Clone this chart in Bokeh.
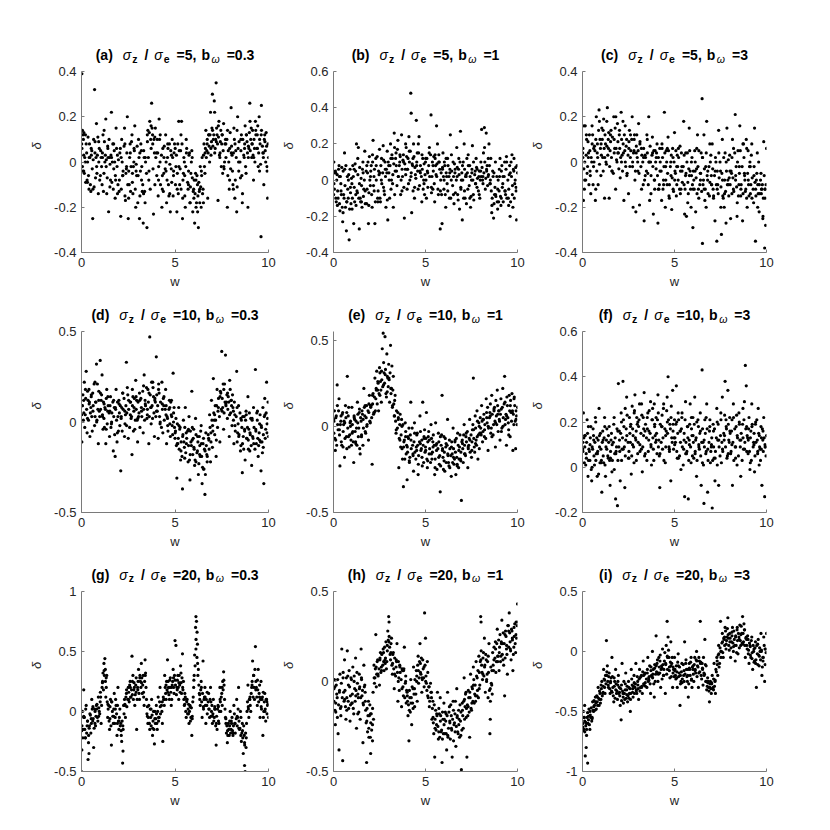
from bokeh.plotting import figure
from bokeh.models import Range1d, FixedTicker
from bokeh.core.properties import value
from bokeh.layouts import column, row
from bokeh.embed import file_html
from bokeh.resources import INLINE

# ---------------- data ----------------
x_ticks = [0, 5, 10]
x_tick_labels = ["0", "5", "10"]

panel_letters = ["a", "b", "c", "d", "e", "f", "g", "h", "i"]
panel_ratio = ["5", "5", "5", "10", "10", "10", "20", "20", "20"]
panel_bw = ["0.3", "1", "3", "0.3", "1", "3", "0.3", "1", "3"]

y_limits = [(-0.4, 0.4), (-0.4, 0.6), (-0.4, 0.4),
            (-0.5, 0.5), (-0.5, 0.55), (-0.2, 0.6),
            (-0.5, 1.0), (-0.5, 0.5), (-1.0, 0.5)]
y_ticks = [[-0.4, -0.2, 0, 0.2, 0.4], [-0.4, -0.2, 0, 0.2, 0.4, 0.6], [-0.4, -0.2, 0, 0.2, 0.4],
           [-0.5, 0, 0.5], [-0.5, 0, 0.5], [-0.2, 0, 0.2, 0.4, 0.6],
           [-0.5, 0, 0.5, 1], [-0.5, 0, 0.5], [-1, -0.5, 0, 0.5]]
y_tick_labels = [["-0.4", "-0.2", "0", "0.2", "0.4"], ["-0.4", "-0.2", "0", "0.2", "0.4", "0.6"],
                 ["-0.4", "-0.2", "0", "0.2", "0.4"],
                 ["-0.5", "0", "0.5"], ["-0.5", "0", "0.5"], ["-0.2", "0", "0.2", "0.4", "0.6"],
                 ["-0.5", "0", "0.5", "1"], ["-0.5", "0", "0.5"], ["-1", "-0.5", "0", "0.5"]]

pts_a = [(0.02,0.39),(0.05,0.14),(0.08,0.12),(0.1,0.1),(0.12,0.03),(0.05,-0.02),(0.15,-0.05),(0.2,0.0),(0.25,0.08),(0.3,-0.08),(0.35,0.11),(0.4,-0.12),(0.45,0.02),(0.5,-0.13),(0.55,0.05),(0.6,-0.25),(0.65,0.1),(0.7,0.32),(0.75,-0.07),(0.8,0.17),(0.85,0.03),(0.9,-0.14),(0.95,0.06),
(1.05,0.02),(1.1,-0.1),(1.15,0.12),(1.2,-0.05),(1.25,0.0),(1.3,0.19),(1.35,-0.14),(1.4,0.07),(1.45,-0.22),(1.5,0.02),(1.55,-0.08),(1.6,0.22),(1.65,0.0),(1.7,-0.12),(1.75,0.05),(1.8,-0.16),(1.85,0.15),(1.9,-0.02),(1.95,-0.1),
(2.05,0.04),(2.1,-0.24),(2.15,0.1),(2.2,-0.06),(2.3,0.15),(2.35,-0.17),(2.4,-0.03),(2.45,0.2),(2.5,-0.25),(2.55,-0.1),(2.6,0.08),(2.65,-0.02),(2.7,0.12),(2.75,-0.14),(2.8,0.0),(2.85,0.16),(2.9,-0.2),(2.95,-0.06),
(3.05,0.1),(3.1,-0.25),(3.15,-0.04),(3.2,0.05),(3.25,-0.13),(3.3,-0.27),(3.35,0.02),(3.4,-0.18),(3.5,-0.29),(3.55,0.14),(3.6,-0.08),(3.65,0.18),(3.7,0.1),(3.75,0.26),(3.8,0.12),(3.85,-0.23),(3.9,0.04),(3.95,0.15),
(4.05,0.1),(4.1,-0.15),(4.15,0.19),(4.2,0.0),(4.3,-0.2),(4.35,0.06),(4.4,-0.05),(4.5,0.12),(4.55,-0.18),(4.6,0.02),(4.65,-0.1),(4.7,0.08),(4.75,-0.22),(4.8,-0.03),(4.85,0.1),(4.9,-0.15),(4.95,0.04),
(5.05,-0.02),(5.1,-0.22),(5.15,0.08),(5.2,0.18),(5.25,-0.1),(5.3,0.05),(5.35,0.18),(5.4,-0.25),(5.45,-0.05),(5.5,0.0),(5.55,-0.2),(5.6,0.1),(5.7,-0.12),(5.75,0.03),(5.8,-0.18),(5.85,-0.05),(5.9,0.05),(5.95,-0.22),
(6.0,-0.12),(6.05,-0.27),(6.1,-0.05),(6.15,-0.18),(6.2,-0.1),(6.25,-0.29),(6.3,-0.13),(6.35,-0.02),(6.4,-0.2),(6.45,0.02),(6.5,-0.12),(6.55,0.08),(6.6,-0.05),(6.65,0.14),(6.7,0.05),(6.75,-0.16),(6.8,0.12),(6.85,0.0),(6.9,0.22),(6.95,0.09),
(7.0,0.3),(7.05,0.1),(7.1,0.27),(7.15,0.06),(7.2,0.35),(7.25,0.12),(7.3,-0.17),(7.35,0.18),(7.4,0.02),(7.45,0.14),(7.5,0.08),(7.55,-0.05),(7.6,0.17),(7.65,0.0),(7.7,0.1),(7.8,-0.2),(7.85,0.05),(7.9,-0.12),(7.95,0.13),
(8.0,0.24),(8.05,0.03),(8.1,-0.1),(8.15,0.15),(8.2,-0.16),(8.25,0.05),(8.3,-0.22),(8.35,0.2),(8.4,0.0),(8.5,-0.07),(8.55,0.12),(8.6,-0.18),(8.7,0.02),(8.75,0.16),(8.8,-0.05),(8.85,0.09),(8.9,-0.2),(8.95,0.06),
(9.0,0.26),(9.05,0.1),(9.1,0.02),(9.15,0.14),(9.2,-0.08),(9.25,0.06),(9.3,0.18),(9.4,0.12),(9.45,-0.02),(9.5,0.2),(9.55,0.08),(9.6,-0.33),(9.62,0.25),(9.7,0.04),(9.75,-0.1),(9.8,0.12),(9.85,0.0),(9.9,0.07),(9.95,-0.16),(10.0,0.02)]
pts_a2 = [(0.025,0.06),(0.075,-0.04),(0.125,0.13),(0.175,0.02),(0.225,-0.09),(0.275,0.04),(0.325,0.0),(0.375,-0.06),(0.425,0.08),(0.475,-0.1),(0.525,0.03),(0.575,-0.03),(0.625,0.01),(0.675,-0.11),(0.725,0.09),(0.775,0.02),(0.825,-0.05),(0.875,0.11),(0.925,0.0),(0.975,-0.08),
(1.025,0.05),(1.075,-0.02),(1.125,0.02),(1.175,-0.13),(1.225,0.09),(1.275,0.03),(1.325,0.01),(1.375,-0.07),(1.425,0.02),(1.475,0.1),(1.525,-0.01),(1.575,0.03),(1.625,-0.09),(1.675,0.08),(1.725,-0.03),(1.775,0.0),(1.825,-0.08),(1.875,0.06),(1.925,-0.14),(1.975,0.01),
(2.025,-0.08),(2.075,0.06),(2.125,-0.12),(2.175,0.0),(2.225,-0.04),(2.275,0.07),(2.325,-0.15),(2.375,-0.05),(2.425,0.04),(2.475,-0.1),(2.525,-0.04),(2.575,0.02),(2.625,-0.13),(2.675,0.09),(2.725,-0.05),(2.775,-0.02),(2.825,0.05),(2.875,-0.12),(2.925,-0.01),(2.975,0.07),
(3.025,-0.06),(3.075,0.02),(3.125,-0.15),(3.175,0.08),(3.225,-0.02),(3.275,-0.1),(3.325,0.05),(3.375,-0.13),(3.425,0.0),(3.475,-0.05),(3.525,0.09),(3.575,0.02),(3.625,0.13),(3.675,-0.12),(3.725,0.06),(3.775,0.15),(3.825,-0.03),(3.875,0.1),(3.925,-0.1),(3.975,0.02),
(4.025,-0.06),(4.075,0.04),(4.125,-0.02),(4.175,0.1),(4.225,-0.1),(4.275,0.03),(4.325,-0.06),(4.375,-0.13),(4.425,0.07),(4.475,-0.03),(4.525,0.0),(4.575,-0.08),(4.625,0.06),(4.675,-0.15),(4.725,-0.01),(4.775,0.05),(4.825,-0.09),(4.875,0.02),(4.925,-0.04),(4.975,0.08),
(5.025,-0.1),(5.075,0.03),(5.125,-0.05),(5.175,-0.14),(5.225,0.05),(5.275,-0.03),(5.325,-0.12),(5.375,0.08),(5.425,-0.08),(5.475,0.02),(5.525,-0.15),(5.575,-0.02),(5.625,0.06),(5.675,-0.09),(5.725,-0.04),(5.775,0.04),(5.825,-0.11),(5.875,0.0),(5.925,-0.07),(5.975,-0.13),
(6.025,-0.08),(6.075,-0.14),(6.125,-0.2),(6.175,-0.06),(6.225,-0.15),(6.275,-0.09),(6.325,-0.18),(6.375,-0.11),(6.425,-0.06),(6.475,-0.14),(6.525,0.03),(6.575,-0.02),(6.625,0.06),(6.675,0.02),(6.725,0.1),(6.775,0.04),(6.825,0.07),(6.875,0.12),(6.925,0.03),(6.975,0.15),
(7.025,0.07),(7.075,0.12),(7.125,0.04),(7.175,0.1),(7.225,0.15),(7.275,0.08),(7.325,0.11),(7.375,0.03),(7.425,0.09),(7.475,-0.02),(7.525,0.12),(7.575,0.05),(7.625,-0.03),(7.675,0.08),(7.725,0.02),(7.775,0.1),(7.825,-0.06),(7.875,0.0),(7.925,0.06),(7.975,-0.03),
(8.025,0.07),(8.075,-0.04),(8.125,0.04),(8.175,0.1),(8.225,-0.08),(8.275,0.02),(8.325,-0.11),(8.375,0.06),(8.425,0.09),(8.475,0.0),(8.525,0.05),(8.575,-0.06),(8.625,0.1),(8.675,0.03),(8.725,0.08),(8.775,-0.02),(8.825,0.12),(8.875,0.04),(8.925,0.07),(8.975,0.13),
(9.025,0.05),(9.075,0.15),(9.125,0.08),(9.175,0.03),(9.225,0.1),(9.275,0.0),(9.325,0.12),(9.375,0.06),(9.425,0.16),(9.475,0.04),(9.525,0.1),(9.575,-0.01),(9.625,0.14),(9.675,0.07),(9.725,0.02),(9.775,0.1),(9.825,0.05),(9.875,0.13),(9.925,-0.04),(9.975,0.08)]
pts_a3 = [(0.01,0.08),(0.12,-0.04),(0.21,0.12),(0.32,-0.09),(0.41,0.02),(0.52,0.06),(0.61,-0.12),(0.72,0.04),(0.81,-0.02),(0.92,0.09),
(1.01,-0.06),(1.12,0.04),(1.21,0.14),(1.32,-0.02),(1.41,0.06),(1.52,-0.11),(1.61,0.02),(1.72,0.08),(1.81,-0.06),(1.92,0.03),
(2.01,-0.13),(2.12,0.02),(2.21,-0.06),(2.32,0.08),(2.41,-0.02),(2.52,-0.16),(2.61,0.04),(2.72,-0.09),(2.81,0.06),(2.92,-0.04),
(3.01,-0.18),(3.12,0.04),(3.21,-0.08),(3.32,-0.14),(3.41,0.02),(3.52,0.12),(3.61,-0.04),(3.72,0.16),(3.81,0.08),(3.92,0.11),
(4.01,0.04),(4.12,-0.08),(4.21,0.12),(4.32,-0.12),(4.41,0.02),(4.52,-0.04),(4.61,0.08),(4.72,-0.14),(4.81,0.03),(4.92,-0.06),
(5.01,0.06),(5.12,-0.12),(5.21,-0.02),(5.32,0.12),(5.41,-0.16),(5.52,-0.06),(5.61,0.04),(5.72,-0.1),(5.81,-0.18),(5.92,0.02),
(6.01,-0.16),(6.12,-0.08),(6.21,-0.22),(6.32,-0.12),(6.41,-0.04),(6.52,-0.18),(6.61,0.04),(6.72,0.08),(6.81,0.12),(6.92,0.06),
(7.01,0.14),(7.12,0.22),(7.21,0.09),(7.32,0.16),(7.41,0.04),(7.52,0.12),(7.61,-0.02),(7.72,0.08),(7.81,0.14),(7.92,-0.08),
(8.01,0.04),(8.12,-0.12),(8.21,0.08),(8.32,0.14),(8.41,-0.04),(8.52,0.1),(8.61,-0.14),(8.72,0.06),(8.81,0.12),(8.92,0.02),
(9.01,0.18),(9.12,0.08),(9.21,0.02),(9.32,0.14),(9.41,0.06),(9.52,-0.04),(9.61,0.12),(9.72,0.04),(9.81,0.09),(9.92,-0.02)]

pts_b = [(0.02,0.1),(0.05,-0.05),(0.1,0.05),(0.15,-0.12),(0.2,0.03),(0.25,-0.1),(0.3,0.08),(0.35,-0.17),(0.4,-0.02),(0.45,0.07),(0.5,-0.23),(0.55,-0.08),(0.6,0.15),(0.65,-0.15),(0.7,-0.28),(0.75,0.02),(0.8,-0.1),(0.85,-0.33),(0.9,0.06),(0.95,-0.13),
(1.0,-0.02),(1.05,0.08),(1.1,-0.24),(1.15,-0.12),(1.2,0.05),(1.25,0.2),(1.3,-0.07),(1.35,0.18),(1.4,-0.27),(1.45,-0.1),(1.5,0.01),(1.55,-0.15),(1.6,0.1),(1.65,-0.05),(1.7,0.16),(1.8,-0.13),(1.85,0.04),(1.9,-0.24),(1.95,0.13),
(2.0,-0.03),(2.05,0.08),(2.1,-0.15),(2.15,0.22),(2.2,0.02),(2.25,-0.24),(2.3,0.12),(2.4,-0.1),(2.45,0.05),(2.5,0.17),(2.55,-0.12),(2.6,0.0),(2.7,0.19),(2.75,-0.06),(2.8,0.1),(2.85,-0.15),(2.9,0.04),(2.95,-0.22),
(3.0,0.08),(3.05,-0.1),(3.1,0.2),(3.15,0.0),(3.2,0.12),(3.25,-0.15),(3.3,0.26),(3.35,0.05),(3.4,0.15),(3.45,-0.03),(3.5,0.22),(3.6,0.1),(3.65,-0.08),(3.7,0.25),(3.75,0.02),(3.8,0.14),(3.85,-0.21),(3.9,0.06),(3.95,0.18),
(4.0,-0.05),(4.05,0.12),(4.1,0.24),(4.15,0.0),(4.2,0.48),(4.22,0.37),(4.25,-0.18),(4.3,0.08),(4.35,0.2),(4.4,-0.1),(4.45,0.03),(4.5,0.33),(4.55,0.15),(4.6,-0.05),(4.65,0.24),(4.7,0.05),(4.8,-0.12),(4.85,0.12),(4.9,0.0),(4.95,-0.08),
(5.0,0.1),(5.05,-0.1),(5.1,0.05),(5.2,0.15),(5.3,0.36),(5.35,0.02),(5.4,-0.05),(5.45,0.13),(5.5,-0.12),(5.55,0.08),(5.6,0.3),(5.65,0.2),(5.7,-0.08),(5.75,0.1),(5.8,-0.27),(5.85,0.04),(5.9,-0.24),(5.95,0.15),
(6.0,-0.05),(6.05,0.08),(6.1,-0.15),(6.15,0.02),(6.2,0.12),(6.3,-0.1),(6.35,0.25),(6.4,0.0),(6.5,0.1),(6.55,-0.13),(6.6,0.04),(6.7,0.18),(6.75,-0.08),(6.8,0.06),(6.85,-0.16),(6.9,0.27),(6.95,0.0),
(7.0,-0.22),(7.05,0.1),(7.1,0.2),(7.15,-0.1),(7.2,0.03),(7.25,0.12),(7.3,-0.05),(7.4,0.08),(7.45,-0.15),(7.5,0.0),(7.55,0.19),(7.6,-0.08),(7.7,0.05),(7.75,0.12),(7.8,-0.04),(7.9,0.02),(7.95,-0.1),
(8.0,0.05),(8.05,0.28),(8.1,0.0),(8.15,0.15),(8.2,0.29),(8.25,-0.05),(8.3,0.26),(8.35,0.08),(8.4,0.02),(8.45,0.2),(8.5,-0.02),(8.55,0.12),(8.6,-0.18),(8.65,0.05),(8.7,-0.21),(8.75,-0.08),(8.8,0.1),(8.9,-0.12),(8.95,0.0),
(9.0,-0.06),(9.05,0.12),(9.1,-0.14),(9.15,0.08),(9.2,-0.02),(9.3,0.1),(9.35,-0.08),(9.4,0.13),(9.5,-0.1),(9.55,0.03),(9.6,-0.2),(9.65,0.1),(9.7,0.14),(9.75,-0.15),(9.8,0.05),(9.85,-0.02),(9.9,0.07),(9.95,-0.22),(10.0,0.04)]
pts_b2 = [(0.025,-0.02),(0.075,0.04),(0.125,-0.1),(0.175,0.0),(0.225,-0.06),(0.275,0.06),(0.325,-0.13),(0.375,0.02),(0.425,-0.08),(0.475,-0.15),(0.525,0.05),(0.575,-0.1),(0.625,-0.03),(0.675,0.08),(0.725,-0.12),(0.775,-0.05),(0.825,0.03),(0.875,-0.16),(0.925,-0.07),(0.975,0.01),
(1.025,-0.1),(1.075,0.02),(1.125,-0.04),(1.175,0.09),(1.225,-0.14),(1.275,-0.06),(1.325,0.03),(1.375,-0.1),(1.425,0.07),(1.475,-0.12),(1.525,-0.03),(1.575,0.06),(1.625,-0.09),(1.675,0.0),(1.725,-0.13),(1.775,0.05),(1.825,-0.05),(1.875,0.1),(1.925,-0.07),(1.975,0.0),
(2.025,0.05),(2.075,-0.08),(2.125,0.1),(2.175,-0.03),(2.225,0.06),(2.275,-0.12),(2.325,0.0),(2.375,0.13),(2.425,-0.06),(2.475,0.03),(2.525,-0.1),(2.575,0.08),(2.625,-0.02),(2.675,0.04),(2.725,0.11),(2.775,-0.08),(2.825,0.02),(2.875,0.06),(2.925,-0.11),(2.975,0.1),
(3.025,0.0),(3.075,0.08),(3.125,-0.05),(3.175,0.14),(3.225,0.03),(3.275,0.09),(3.325,-0.08),(3.375,0.12),(3.425,0.05),(3.475,0.17),(3.525,0.02),(3.575,0.08),(3.625,0.13),(3.675,0.0),(3.725,0.06),(3.775,0.11),(3.825,-0.04),(3.875,0.09),(3.925,0.03),(3.975,0.13),
(4.025,0.06),(4.075,-0.02),(4.125,0.1),(4.175,0.16),(4.225,0.04),(4.275,0.09),(4.325,-0.06),(4.375,0.13),(4.425,0.07),(4.475,0.01),(4.525,0.1),(4.575,0.05),(4.625,0.15),(4.675,-0.03),(4.725,0.08),(4.775,0.02),(4.825,0.06),(4.875,-0.05),(4.925,0.09),(4.975,0.03),
(5.025,0.0),(5.075,0.12),(5.125,-0.04),(5.175,0.08),(5.225,0.02),(5.275,0.14),(5.325,-0.07),(5.375,0.1),(5.425,0.05),(5.475,-0.02),(5.525,0.12),(5.575,0.03),(5.625,0.09),(5.675,-0.05),(5.725,0.14),(5.775,0.06),(5.825,0.0),(5.875,-0.08),(5.925,0.07),(5.975,0.02),
(6.025,0.1),(6.075,-0.08),(6.125,0.04),(6.175,-0.02),(6.225,0.08),(6.275,0.02),(6.325,0.06),(6.375,-0.1),(6.425,0.05),(6.475,-0.03),(6.525,0.02),(6.575,0.09),(6.625,-0.07),(6.675,0.0),(6.725,0.07),(6.775,-0.11),(6.825,0.03),(6.875,0.1),(6.925,-0.05),(6.975,0.04),
(7.025,0.0),(7.075,-0.1),(7.125,0.06),(7.175,0.02),(7.225,-0.13),(7.275,0.04),(7.325,0.08),(7.375,-0.03),(7.425,0.02),(7.475,-0.09),(7.525,0.06),(7.575,0.0),(7.625,-0.11),(7.675,0.03),(7.725,-0.02),(7.775,0.07),(7.825,0.01),(7.875,-0.06),(7.925,0.05),(7.975,0.0),
(8.025,0.02),(8.075,0.07),(8.125,-0.02),(8.175,0.04),(8.225,0.1),(8.275,0.01),(8.325,0.05),(8.375,-0.03),(8.425,0.03),(8.475,0.08),(8.525,0.0),(8.575,-0.06),(8.625,-0.1),(8.675,0.02),(8.725,-0.13),(8.775,-0.04),(8.825,-0.09),(8.875,0.02),(8.925,-0.05),(8.975,-0.12),
(9.025,0.02),(9.075,-0.09),(9.125,0.05),(9.175,-0.04),(9.225,-0.12),(9.275,0.02),(9.325,-0.06),(9.375,0.06),(9.425,-0.1),(9.475,0.0),(9.525,-0.05),(9.575,0.08),(9.625,-0.12),(9.675,0.02),(9.725,-0.03),(9.775,0.06),(9.825,-0.1),(9.875,0.0),(9.925,-0.06),(9.975,0.08)]
pts_b3 = [(0.01,-0.08),(0.12,0.04),(0.21,-0.14),(0.32,0.02),(0.41,-0.06),(0.52,-0.18),(0.61,0.06),(0.72,-0.12),(0.81,0.0),(0.92,-0.04),
(1.01,-0.16),(1.12,0.06),(1.21,-0.08),(1.32,0.12),(1.41,-0.02),(1.52,-0.12),(1.61,0.04),(1.72,-0.06),(1.81,0.08),(1.92,-0.14),
(2.01,0.02),(2.12,0.14),(2.21,-0.06),(2.32,0.08),(2.41,-0.12),(2.52,0.04),(2.61,0.12),(2.72,-0.04),(2.81,0.06),(2.92,0.16),
(3.01,0.04),(3.12,0.12),(3.21,-0.02),(3.32,0.18),(3.41,0.08),(3.52,0.02),(3.61,0.14),(3.72,-0.06),(3.81,0.1),(3.92,0.2),
(4.01,0.06),(4.12,0.16),(4.21,0.02),(4.32,0.12),(4.41,-0.04),(4.52,0.08),(4.61,0.2),(4.72,0.04),(4.81,0.14),(4.92,-0.02),
(5.01,0.12),(5.12,0.04),(5.21,0.18),(5.32,-0.04),(5.41,0.08),(5.52,0.14),(5.61,0.02),(5.72,0.1),(5.81,-0.06),(5.92,0.06),
(6.01,0.0),(6.12,0.12),(6.21,-0.06),(6.32,0.04),(6.41,0.14),(6.52,-0.08),(6.61,0.06),(6.72,0.02),(6.81,0.12),(6.92,-0.04),
(7.01,0.08),(7.12,-0.06),(7.21,0.02),(7.32,0.14),(7.41,-0.1),(7.52,0.04),(7.61,0.1),(7.72,-0.02),(7.81,0.06),(7.92,-0.08),
(8.01,0.1),(8.12,0.02),(8.21,0.18),(8.32,0.06),(8.41,0.12),(8.52,-0.02),(8.61,-0.14),(8.72,0.04),(8.81,-0.08),(8.92,-0.16),
(9.01,0.06),(9.12,-0.1),(9.21,0.02),(9.32,-0.06),(9.41,0.1),(9.52,-0.14),(9.61,0.04),(9.72,-0.08),(9.81,0.12),(9.92,-0.04)]

pts_c = [(0.02,0.02),(0.05,-0.17),(0.08,0.16),(0.1,-0.12),(0.15,0.16),(0.2,0.03),(0.25,-0.05),(0.3,0.09),(0.35,-0.1),(0.4,0.05),(0.45,-0.14),(0.5,0.0),(0.55,0.12),(0.6,-0.02),(0.65,0.07),(0.7,-0.17),(0.75,0.2),(0.8,0.04),(0.85,-0.1),(0.9,0.23),(0.95,0.1),
(1.0,-0.06),(1.05,0.15),(1.1,0.02),(1.15,0.19),(1.2,-0.16),(1.25,0.08),(1.3,-0.01),(1.35,0.24),(1.4,0.1),(1.45,-0.16),(1.5,0.05),(1.55,0.14),(1.6,-0.04),(1.7,0.2),(1.75,0.06),(1.8,-0.12),(1.85,0.01),(1.9,0.17),(1.95,0.04),
(2.0,0.12),(2.05,-0.07),(2.1,0.22),(2.15,0.03),(2.2,0.18),(2.25,-0.17),(2.3,0.05),(2.35,-0.02),(2.4,0.1),(2.5,-0.14),(2.55,0.14),(2.6,0.02),(2.7,0.2),(2.75,-0.2),(2.8,0.05),(2.85,-0.08),(2.9,-0.22),(2.95,0.12),
(3.0,0.0),(3.05,0.17),(3.1,-0.19),(3.2,0.06),(3.3,-0.1),(3.35,-0.26),(3.4,0.03),(3.5,0.12),(3.55,-0.05),(3.6,0.2),(3.65,-0.17),(3.7,0.0),(3.8,0.11),(3.85,-0.23),(3.9,-0.08),(3.95,0.05),
(4.0,-0.03),(4.05,0.08),(4.1,-0.27),(4.15,-0.12),(4.2,0.06),(4.3,-0.17),(4.35,0.02),(4.4,-0.08),(4.45,0.22),(4.5,-0.2),(4.55,0.05),(4.6,-0.1),(4.65,0.11),(4.7,-0.15),(4.8,0.0),(4.85,-0.21),(4.9,0.06),(4.95,-0.13),
(5.0,0.13),(5.05,-0.05),(5.1,-0.15),(5.15,0.03),(5.2,-0.08),(5.3,0.07),(5.35,-0.12),(5.4,-0.02),(5.5,0.18),(5.55,-0.23),(5.6,-0.06),(5.65,-0.24),(5.7,0.04),(5.75,-0.14),(5.8,0.15),(5.85,-0.04),(5.9,-0.2),(5.95,0.02),
(6.0,-0.29),(6.05,-0.08),(6.1,0.05),(6.15,-0.22),(6.2,-0.03),(6.25,0.12),(6.3,-0.12),(6.4,-0.05),(6.45,0.04),(6.5,0.28),(6.52,-0.36),(6.55,-0.1),(6.6,0.12),(6.65,-0.17),(6.7,-0.02),(6.75,0.18),(6.8,-0.08),(6.9,-0.15),(6.95,0.0),
(7.0,-0.06),(7.05,0.08),(7.1,-0.12),(7.2,-0.26),(7.25,0.0),(7.3,-0.35),(7.35,-0.1),(7.4,0.14),(7.5,-0.04),(7.55,-0.32),(7.6,0.1),(7.65,-0.16),(7.7,-0.2),(7.75,0.04),(7.8,-0.27),(7.85,0.15),(7.9,-0.08),(7.95,-0.15),
(8.0,0.03),(8.05,-0.25),(8.1,-0.05),(8.15,0.1),(8.2,-0.12),(8.3,0.21),(8.35,-0.02),(8.4,-0.24),(8.45,0.05),(8.5,-0.1),(8.55,0.16),(8.6,-0.15),(8.7,-0.26),(8.75,0.08),(8.8,-0.05),(8.85,-0.13),(8.9,0.1),(8.95,-0.2),
(9.0,0.05),(9.05,-0.15),(9.1,0.0),(9.15,-0.1),(9.2,0.08),(9.3,-0.18),(9.35,0.15),(9.4,-0.35),(9.45,-0.08),(9.5,0.04),(9.55,-0.14),(9.6,-0.22),(9.7,-0.05),(9.75,-0.12),(9.8,-0.25),(9.85,0.09),(9.9,-0.38),(9.92,-0.16),(9.95,-0.28),(10.0,0.06)]
pts_c2 = [(0.025,0.06),(0.075,-0.03),(0.125,0.0),(0.175,-0.08),(0.225,0.1),(0.275,-0.02),(0.325,0.04),(0.375,0.12),(0.425,-0.06),(0.475,0.02),(0.525,0.08),(0.575,-0.1),(0.625,0.0),(0.675,0.05),(0.725,0.1),(0.775,-0.04),(0.825,0.02),(0.875,0.14),(0.925,-0.01),(0.975,0.06),
(1.025,0.03),(1.075,0.1),(1.125,-0.04),(1.175,0.06),(1.225,0.12),(1.275,0.0),(1.325,0.07),(1.375,0.03),(1.425,0.13),(1.475,-0.02),(1.525,0.09),(1.575,0.02),(1.625,0.11),(1.675,-0.05),(1.725,0.04),(1.775,0.15),(1.825,0.06),(1.875,0.0),(1.925,0.09),(1.975,-0.03),
(2.025,0.06),(2.075,0.02),(2.125,0.1),(2.175,-0.04),(2.225,0.04),(2.275,0.12),(2.325,0.0),(2.375,0.07),(2.425,-0.05),(2.475,0.03),(2.525,0.09),(2.575,-0.02),(2.625,0.05),(2.675,0.1),(2.725,0.0),(2.775,0.04),(2.825,0.12),(2.875,-0.04),(2.925,0.07),(2.975,0.02),
(3.025,0.05),(3.075,-0.05),(3.125,0.09),(3.175,-0.02),(3.225,0.03),(3.275,0.0),(3.325,0.06),(3.375,-0.08),(3.425,0.02),(3.475,-0.04),(3.525,0.04),(3.575,-0.1),(3.625,0.0),(3.675,0.07),(3.725,-0.06),(3.775,0.03),(3.825,-0.02),(3.875,0.05),(3.925,-0.12),(3.975,0.0),
(4.025,0.04),(4.075,-0.06),(4.125,0.02),(4.175,-0.1),(4.225,0.0),(4.275,-0.04),(4.325,0.06),(4.375,-0.12),(4.425,-0.02),(4.475,0.04),(4.525,-0.08),(4.575,0.0),(4.625,-0.05),(4.675,0.05),(4.725,-0.1),(4.775,-0.02),(4.825,0.03),(4.875,-0.07),(4.925,-0.12),(4.975,0.0),
(5.025,-0.04),(5.075,0.05),(5.125,-0.1),(5.175,-0.02),(5.225,0.02),(5.275,-0.12),(5.325,-0.04),(5.375,0.04),(5.425,-0.09),(5.475,-0.02),(5.525,0.03),(5.575,-0.12),(5.625,-0.05),(5.675,0.0),(5.725,-0.09),(5.775,-0.03),(5.825,0.05),(5.875,-0.12),(5.925,-0.06),(5.975,-0.1),
(6.025,-0.04),(6.075,-0.12),(6.125,0.0),(6.175,-0.07),(6.225,-0.14),(6.275,-0.02),(6.325,0.05),(6.375,-0.1),(6.425,-0.05),(6.475,-0.13),(6.525,0.02),(6.575,-0.08),(6.625,-0.03),(6.675,-0.12),(6.725,0.04),(6.775,-0.06),(6.825,-0.14),(6.875,-0.02),(6.925,-0.09),(6.975,0.03),
(7.025,-0.1),(7.075,-0.03),(7.125,-0.15),(7.175,-0.06),(7.225,0.02),(7.275,-0.1),(7.325,-0.04),(7.375,-0.14),(7.425,-0.07),(7.475,0.0),(7.525,-0.11),(7.575,-0.05),(7.625,-0.15),(7.675,0.02),(7.725,-0.08),(7.775,-0.13),(7.825,-0.04),(7.875,-0.1),(7.925,0.01),(7.975,-0.07),
(8.025,-0.1),(8.075,-0.04),(8.125,0.02),(8.175,-0.07),(8.225,-0.13),(8.275,0.04),(8.325,-0.06),(8.375,-0.11),(8.425,0.0),(8.475,-0.15),(8.525,-0.05),(8.575,0.05),(8.625,-0.1),(8.675,-0.02),(8.725,-0.14),(8.775,0.02),(8.825,-0.08),(8.875,-0.12),(8.925,0.06),(8.975,-0.05),
(9.025,-0.1),(9.075,-0.02),(9.125,-0.14),(9.175,0.03),(9.225,-0.07),(9.275,-0.12),(9.325,-0.02),(9.375,-0.09),(9.425,-0.15),(9.475,-0.05),(9.525,-0.1),(9.575,0.0),(9.625,-0.14),(9.675,-0.08),(9.725,-0.12),(9.775,-0.1),(9.825,-0.16),(9.875,-0.06),(9.925,-0.12),(9.975,-0.1)]
pts_c3 = [(0.01,0.04),(0.12,-0.08),(0.21,0.12),(0.32,0.02),(0.41,-0.04),(0.52,0.16),(0.61,0.06),(0.72,-0.12),(0.81,0.08),(0.92,0.18),
(1.01,0.08),(1.12,0.14),(1.21,0.02),(1.32,0.18),(1.41,0.06),(1.52,0.12),(1.61,-0.04),(1.72,0.1),(1.81,0.2),(1.92,0.04),
(2.01,0.14),(2.12,0.0),(2.21,0.08),(2.32,0.16),(2.41,-0.06),(2.52,0.06),(2.61,0.12),(2.72,-0.02),(2.81,0.1),(2.92,0.04),
(3.01,-0.04),(3.12,0.08),(3.21,-0.12),(3.32,0.02),(3.41,-0.06),(3.52,0.1),(3.61,0.0),(3.72,-0.14),(3.81,0.04),(3.92,-0.08),
(4.01,0.02),(4.12,-0.12),(4.21,-0.04),(4.32,0.08),(4.41,-0.1),(4.52,-0.02),(4.61,0.06),(4.72,-0.16),(4.81,-0.06),(4.92,0.02),
(5.01,-0.08),(5.12,-0.02),(5.21,0.06),(5.32,-0.14),(5.41,-0.04),(5.52,-0.1),(5.61,0.04),(5.72,-0.18),(5.81,-0.06),(5.92,0.0),
(6.01,-0.12),(6.12,-0.04),(6.21,0.06),(6.32,-0.16),(6.41,-0.08),(6.52,0.02),(6.61,-0.12),(6.72,-0.2),(6.81,-0.04),(6.92,0.08),
(7.01,-0.1),(7.12,-0.16),(7.21,-0.04),(7.32,-0.12),(7.41,0.04),(7.52,-0.2),(7.61,-0.08),(7.72,-0.14),(7.81,0.0),(7.92,-0.1),
(8.01,-0.04),(8.12,-0.14),(8.21,0.06),(8.32,-0.08),(8.41,-0.18),(8.52,-0.02),(8.61,-0.12),(8.72,0.08),(8.81,-0.06),(8.92,-0.16),
(9.01,-0.08),(9.12,-0.02),(9.21,-0.16),(9.32,-0.06),(9.41,-0.12),(9.52,-0.2),(9.61,-0.1),(9.72,-0.14),(9.81,-0.24),(9.92,-0.12)]

pts_d = [(0.02,-0.11),(0.05,0.09),(0.1,0.01),(0.15,0.22),(0.2,0.04),(0.25,0.28),(0.3,-0.06),(0.35,0.12),(0.4,0.18),(0.45,-0.08),(0.5,0.08),(0.55,0.03),(0.6,0.16),(0.7,-0.02),(0.75,0.11),(0.8,0.32),(0.85,0.21),(0.9,-0.12),(0.95,0.06),
(1.0,0.34),(1.05,0.12),(1.1,0.26),(1.15,-0.04),(1.2,0.02),(1.25,0.08),(1.3,-0.12),(1.35,0.18),(1.4,0.06),(1.5,-0.08),(1.55,0.14),(1.6,-0.01),(1.7,-0.16),(1.75,0.08),(1.8,-0.19),(1.85,0.18),(1.9,-0.11),(1.95,0.03),
(2.0,0.12),(2.05,-0.02),(2.1,-0.27),(2.15,0.08),(2.2,0.16),(2.3,-0.08),(2.35,0.04),(2.4,0.33),(2.45,0.19),(2.5,-0.09),(2.6,0.11),(2.65,0.02),(2.7,-0.18),(2.75,0.14),(2.8,0.06),(2.85,-0.04),(2.9,0.23),(2.95,0.12),
(3.0,-0.11),(3.05,0.03),(3.1,0.16),(3.2,0.08),(3.3,-0.06),(3.35,0.26),(3.4,0.12),(3.5,0.02),(3.55,0.18),(3.6,-0.12),(3.65,0.47),(3.7,0.08),(3.75,0.22),(3.8,0.02),(3.85,0.14),(3.9,-0.08),(3.95,0.11),
(4.0,0.36),(4.05,0.06),(4.1,-0.09),(4.15,0.16),(4.2,-0.01),(4.3,0.22),(4.35,-0.06),(4.4,0.09),(4.5,0.18),(4.55,-0.12),(4.6,0.02),(4.7,0.12),(4.75,-0.08),(4.8,0.04),(4.85,-0.02),(4.9,0.27),(4.95,0.08),
(5.0,-0.09),(5.05,0.02),(5.1,-0.31),(5.15,-0.12),(5.2,0.08),(5.25,-0.04),(5.3,-0.21),(5.4,-0.37),(5.45,0.01),(5.5,-0.14),(5.55,0.08),(5.6,-0.06),(5.7,-0.22),(5.75,0.03),(5.8,-0.32),(5.85,-0.11),(5.9,0.17),(5.95,-0.18),
(6.0,-0.04),(6.05,-0.24),(6.1,0.02),(6.2,-0.16),(6.25,-0.29),(6.3,-0.08),(6.35,-0.19),(6.4,-0.02),(6.45,-0.34),(6.5,-0.12),(6.55,-0.26),(6.6,-0.4),(6.65,-0.06),(6.7,-0.18),(6.8,-0.09),(6.85,0.04),(6.9,-0.22),(6.95,0.12),
(7.0,-0.14),(7.05,0.24),(7.1,0.01),(7.15,0.09),(7.2,-0.19),(7.25,0.18),(7.3,0.06),(7.4,-0.11),(7.45,0.16),(7.5,0.39),(7.55,0.08),(7.6,-0.04),(7.65,0.21),(7.7,0.37),(7.75,0.11),(7.8,0.02),(7.85,0.14),(7.9,-0.08),(7.95,0.18),
(8.0,0.12),(8.05,-0.02),(8.1,0.08),(8.15,-0.12),(8.2,0.04),(8.3,0.28),(8.35,-0.06),(8.4,0.09),(8.5,-0.16),(8.55,0.01),(8.6,-0.28),(8.65,-0.08),(8.7,0.03),(8.75,-0.21),(8.8,0.06),(8.85,-0.09),(8.9,0.14),(8.95,-0.04),
(9.0,-0.16),(9.05,0.02),(9.1,-0.24),(9.15,-0.08),(9.2,0.08),(9.3,0.29),(9.35,-0.12),(9.4,0.01),(9.45,-0.19),(9.5,-0.06),(9.55,0.04),(9.6,-0.27),(9.65,-0.11),(9.7,0.08),(9.75,-0.34),(9.8,0.13),(9.85,-0.04),(9.9,0.22),(9.95,0.02),(10.0,-0.08)]
pts_d2 = [(0.025,0.09),(0.075,0.15),(0.125,0.05),(0.175,-0.03),(0.225,0.13),(0.275,0.07),(0.325,0.17),(0.375,0.01),(0.425,0.11),(0.475,0.05),(0.525,0.15),(0.575,-0.05),(0.625,0.09),(0.675,0.21),(0.725,0.03),(0.775,0.11),(0.825,0.01),(0.875,0.07),(0.925,0.17),(0.975,0.03),
(1.025,0.07),(1.075,0.15),(1.125,0.03),(1.175,0.11),(1.225,-0.03),(1.275,0.07),(1.325,0.13),(1.375,-0.01),(1.425,0.09),(1.475,0.05),(1.525,0.09),(1.575,-0.03),(1.625,0.05),(1.675,0.11),(1.725,0.03),(1.775,-0.07),(1.825,0.07),(1.875,0.01),(1.925,0.11),(1.975,-0.05),
(2.025,0.05),(2.075,0.09),(2.125,0.03),(2.175,-0.05),(2.225,0.07),(2.275,0.13),(2.325,-0.01),(2.375,0.09),(2.425,0.05),(2.475,0.15),(2.525,0.07),(2.575,-0.03),(2.625,0.11),(2.675,0.03),(2.725,0.09),(2.775,-0.05),(2.825,0.13),(2.875,0.01),(2.925,0.07),(2.975,0.01),
(3.025,0.11),(3.075,0.05),(3.125,-0.03),(3.175,0.13),(3.225,0.03),(3.275,0.17),(3.325,0.07),(3.375,0.01),(3.425,0.09),(3.475,0.19),(3.525,0.07),(3.575,0.11),(3.625,0.03),(3.675,0.15),(3.725,-0.01),(3.775,0.09),(3.825,0.19),(3.875,0.05),(3.925,0.13),(3.975,0.03),
(4.025,0.15),(4.075,0.09),(4.125,0.21),(4.175,0.03),(4.225,0.11),(4.275,-0.03),(4.325,0.07),(4.375,0.13),(4.425,0.01),(4.475,0.07),(4.525,0.09),(4.575,0.03),(4.625,-0.05),(4.675,0.07),(4.725,-0.01),(4.775,0.11),(4.825,0.03),(4.875,-0.07),(4.925,0.05),(4.975,-0.03),
(5.025,-0.05),(5.075,-0.13),(5.125,-0.01),(5.175,-0.09),(5.225,-0.15),(5.275,-0.03),(5.325,-0.11),(5.375,-0.19),(5.425,-0.07),(5.475,-0.11),(5.525,-0.03),(5.575,-0.17),(5.625,-0.09),(5.675,-0.05),(5.725,-0.13),(5.775,-0.21),(5.825,-0.05),(5.875,-0.13),(5.925,-0.03),(5.975,-0.09),
(6.025,-0.15),(6.075,-0.21),(6.125,-0.07),(6.175,-0.17),(6.225,-0.11),(6.275,-0.23),(6.325,-0.13),(6.375,-0.05),(6.425,-0.19),(6.475,-0.25),(6.525,-0.09),(6.575,-0.15),(6.625,-0.29),(6.675,-0.13),(6.725,-0.19),(6.775,-0.07),(6.825,-0.15),(6.875,-0.03),(6.925,-0.11),(6.975,0.01),
(7.025,-0.05),(7.075,0.05),(7.125,-0.07),(7.175,0.01),(7.225,0.09),(7.275,-0.03),(7.325,0.13),(7.375,0.03),(7.425,0.17),(7.475,0.07),(7.525,0.13),(7.575,0.21),(7.625,0.05),(7.675,0.11),(7.725,0.09),(7.775,0.15),(7.825,0.07),(7.875,0.11),(7.925,0.23),(7.975,0.05),
(8.025,0.09),(8.075,0.15),(8.125,0.01),(8.175,0.11),(8.225,-0.05),(8.275,0.03),(8.325,-0.11),(8.375,-0.01),(8.425,-0.07),(8.475,0.05),(8.525,-0.13),(8.575,-0.03),(8.625,0.03),(8.675,-0.15),(8.725,-0.05),(8.775,0.01),(8.825,-0.09),(8.875,-0.03),(8.925,-0.15),(8.975,0.05),
(9.025,-0.07),(9.075,-0.13),(9.125,0.01),(9.175,-0.09),(9.225,-0.03),(9.275,-0.15),(9.325,-0.05),(9.375,0.05),(9.425,-0.09),(9.475,-0.13),(9.525,-0.01),(9.575,-0.11),(9.625,-0.03),(9.675,-0.17),(9.725,-0.07),(9.775,0.03),(9.825,-0.09),(9.875,0.05),(9.925,-0.01),(9.975,0.11)]
pts_d3 = [(0.01,0.04),(0.12,0.12),(0.21,0.18),(0.32,0.02),(0.41,0.1),(0.52,0.14),(0.61,0.06),(0.72,0.22),(0.81,0.0),(0.92,0.12),
(1.01,0.16),(1.12,0.04),(1.21,0.1),(1.32,-0.04),(1.41,0.14),(1.52,0.06),(1.61,0.0),(1.72,0.12),(1.81,0.08),(1.92,-0.06),
(2.01,0.1),(2.12,0.02),(2.21,0.16),(2.32,0.06),(2.41,-0.02),(2.52,0.12),(2.61,0.04),(2.72,0.18),(2.81,0.08),(2.92,0.14),
(3.01,0.02),(3.12,0.12),(3.21,0.06),(3.32,0.2),(3.41,0.1),(3.52,0.04),(3.61,0.16),(3.72,0.08),(3.81,0.22),(3.92,0.12),
(4.01,0.06),(4.12,0.18),(4.21,0.0),(4.32,0.1),(4.41,0.14),(4.52,0.04),(4.61,-0.02),(4.72,0.08),(4.81,0.12),(4.92,0.0),
(5.01,-0.06),(5.12,-0.12),(5.21,-0.02),(5.32,-0.16),(5.41,-0.08),(5.52,-0.2),(5.61,-0.12),(5.72,-0.04),(5.81,-0.18),(5.92,-0.1),
(6.01,-0.14),(6.12,-0.22),(6.21,-0.08),(6.32,-0.18),(6.41,-0.12),(6.52,-0.26),(6.61,-0.16),(6.72,-0.22),(6.81,-0.1),(6.92,-0.06),
(7.01,-0.02),(7.12,0.04),(7.21,-0.1),(7.32,0.08),(7.41,0.14),(7.52,0.06),(7.61,0.18),(7.72,0.1),(7.81,0.16),(7.92,0.04),
(8.01,0.12),(8.12,0.06),(8.21,-0.02),(8.32,0.08),(8.41,-0.08),(8.52,0.02),(8.61,-0.12),(8.72,-0.04),(8.81,0.04),(8.92,-0.1),
(9.01,-0.06),(9.12,0.02),(9.21,-0.12),(9.32,-0.04),(9.41,0.06),(9.52,-0.1),(9.61,-0.02),(9.72,-0.14),(9.81,0.04),(9.92,-0.06)]

pts_e = [(0.02,-0.04),(0.05,0.09),(0.1,-0.14),(0.15,0.06),(0.2,0.24),(0.25,-0.02),(0.3,0.16),(0.35,-0.23),(0.4,0.03),(0.45,-0.11),(0.5,0.08),(0.55,0.01),(0.6,-0.18),(0.65,0.12),(0.7,-0.06),(0.75,0.29),(0.8,0.06),(0.85,-0.12),(0.9,0.02),(0.95,-0.08),
(1.0,0.11),(1.05,-0.03),(1.1,-0.21),(1.15,0.04),(1.2,-0.09),(1.25,-0.01),(1.3,0.14),(1.35,-0.06),(1.4,0.08),(1.45,-0.16),(1.5,0.03),(1.55,0.09),(1.6,-0.11),(1.65,0.22),(1.7,0.06),(1.75,-0.04),(1.8,0.12),(1.9,-0.08),(1.95,0.18),
(2.0,0.02),(2.05,0.12),(2.1,-0.22),(2.15,0.19),(2.2,0.08),(2.25,0.28),(2.3,0.16),(2.35,0.32),(2.4,0.21),(2.45,0.09),(2.5,0.34),(2.55,0.26),(2.6,0.14),(2.65,0.45),(2.7,0.54),(2.75,0.31),(2.8,0.52),(2.85,0.19),(2.9,0.42),(2.95,0.28),
(3.0,0.36),(3.05,0.14),(3.1,0.47),(3.15,0.22),(3.2,0.11),(3.25,0.29),(3.3,0.06),(3.35,0.18),(3.4,-0.04),(3.5,0.08),(3.55,-0.24),(3.6,0.01),(3.65,-0.12),(3.7,0.04),(3.75,-0.19),(3.8,-0.35),(3.85,-0.08),(3.9,0.02),(3.95,-0.16),
(4.0,-0.31),(4.05,-0.06),(4.1,-0.01),(4.15,-0.18),(4.2,0.14),(4.3,-0.11),(4.35,-0.26),(4.4,0.02),(4.5,-0.12),(4.55,-0.04),(4.6,-0.28),(4.7,0.06),(4.75,-0.14),(4.8,-0.08),(4.85,0.14),(4.9,-0.21),(4.95,-0.02),
(5.0,-0.12),(5.05,0.08),(5.1,-0.24),(5.15,-0.06),(5.2,-0.16),(5.3,0.01),(5.35,-0.19),(5.4,-0.09),(5.5,-0.28),(5.55,0.02),(5.6,-0.14),(5.7,-0.04),(5.75,-0.22),(5.8,-0.38),(5.85,-0.11),(5.9,0.18),(5.95,-0.18),
(6.0,-0.06),(6.05,-0.26),(6.1,-0.12),(6.2,0.04),(6.25,-0.21),(6.3,-0.08),(6.4,-0.29),(6.45,-0.16),(6.5,-0.01),(6.55,-0.22),(6.6,-0.09),(6.65,-0.28),(6.7,-0.18),(6.75,-0.04),(6.8,-0.24),(6.85,-0.12),(6.9,-0.19),(6.95,-0.43),
(7.0,-0.08),(7.05,-0.21),(7.1,0.01),(7.15,-0.16),(7.2,-0.06),(7.3,-0.24),(7.35,-0.11),(7.4,0.04),(7.5,-0.18),(7.55,-0.02),(7.6,0.28),(7.65,-0.12),(7.7,0.06),(7.75,-0.08),(7.8,0.09),(7.85,-0.19),(7.9,0.02),(7.95,-0.04),
(8.0,-0.01),(8.05,0.12),(8.1,-0.09),(8.15,0.04),(8.2,-0.06),(8.3,0.16),(8.35,0.02),(8.4,-0.14),(8.5,0.08),(8.55,-0.04),(8.6,0.18),(8.7,0.01),(8.75,0.11),(8.8,-0.12),(8.85,0.06),(8.9,0.21),(8.95,-0.03),
(9.0,0.09),(9.05,-0.08),(9.1,0.16),(9.15,-0.01),(9.2,0.22),(9.3,0.29),(9.35,0.04),(9.4,-0.11),(9.45,0.12),(9.5,0.02),(9.55,0.18),(9.6,-0.06),(9.65,0.08),(9.7,0.19),(9.75,-0.14),(9.8,0.01),(9.85,0.12),(9.9,-0.13),(9.95,0.06),(10.0,0.11)]
pts_e2 = [(0.025,0.03),(0.075,-0.07),(0.125,0.05),(0.175,-0.11),(0.225,0.01),(0.275,0.09),(0.325,-0.05),(0.375,0.01),(0.425,-0.09),(0.475,0.07),(0.525,-0.03),(0.575,0.03),(0.625,-0.07),(0.675,0.05),(0.725,-0.13),(0.775,-0.01),(0.825,0.11),(0.875,-0.05),(0.925,0.03),(0.975,-0.11),
(1.025,0.01),(1.075,-0.09),(1.125,0.05),(1.175,-0.03),(1.225,0.03),(1.275,-0.11),(1.325,0.07),(1.375,-0.01),(1.425,-0.13),(1.475,0.05),(1.525,-0.05),(1.575,0.07),(1.625,-0.01),(1.675,0.11),(1.725,-0.03),(1.775,0.05),(1.825,0.01),(1.875,0.09),(1.925,0.13),(1.975,0.03),
(2.025,0.11),(2.075,0.05),(2.125,0.13),(2.175,0.07),(2.225,0.17),(2.275,0.09),(2.325,0.21),(2.375,0.13),(2.425,0.25),(2.475,0.19),(2.525,0.31),(2.575,0.21),(2.625,0.27),(2.675,0.23),(2.725,0.37),(2.775,0.25),(2.825,0.33),(2.875,0.17),(2.925,0.29),(2.975,0.23),
(3.025,0.27),(3.075,0.31),(3.125,0.19),(3.175,0.35),(3.225,0.21),(3.275,0.13),(3.325,0.15),(3.375,0.03),(3.425,0.09),(3.475,-0.01),(3.525,0.05),(3.575,-0.07),(3.625,0.07),(3.675,-0.05),(3.725,-0.13),(3.775,0.01),(3.825,-0.09),(3.875,-0.19),(3.925,-0.03),(3.975,-0.11),
(4.025,-0.15),(4.075,-0.07),(4.125,-0.21),(4.175,-0.05),(4.225,-0.13),(4.275,-0.01),(4.325,-0.17),(4.375,-0.09),(4.425,-0.15),(4.475,-0.19),(4.525,-0.05),(4.575,-0.11),(4.625,-0.17),(4.675,-0.09),(4.725,-0.03),(4.775,-0.13),(4.825,-0.23),(4.875,-0.11),(4.925,-0.07),(4.975,-0.15),
(5.025,-0.07),(5.075,-0.19),(5.125,-0.09),(5.175,-0.03),(5.225,-0.13),(5.275,-0.21),(5.325,-0.07),(5.375,-0.15),(5.425,-0.05),(5.475,-0.11),(5.525,-0.19),(5.575,-0.11),(5.625,-0.25),(5.675,-0.13),(5.725,-0.09),(5.775,-0.17),(5.825,-0.23),(5.875,-0.05),(5.925,-0.13),(5.975,-0.25),
(6.025,-0.15),(6.075,-0.07),(6.125,-0.21),(6.175,-0.11),(6.225,-0.17),(6.275,-0.23),(6.325,-0.13),(6.375,-0.17),(6.425,-0.09),(6.475,-0.21),(6.525,-0.13),(6.575,-0.19),(6.625,-0.15),(6.675,-0.07),(6.725,-0.23),(6.775,-0.11),(6.825,-0.19),(6.875,-0.05),(6.925,-0.15),(6.975,-0.09),
(7.025,-0.13),(7.075,-0.05),(7.125,-0.11),(7.175,-0.17),(7.225,-0.09),(7.275,-0.03),(7.325,-0.13),(7.375,-0.07),(7.425,-0.15),(7.475,-0.05),(7.525,-0.09),(7.575,0.01),(7.625,-0.07),(7.675,-0.15),(7.725,-0.01),(7.775,-0.11),(7.825,0.03),(7.875,-0.05),(7.925,-0.13),(7.975,0.05),
(8.025,-0.05),(8.075,0.03),(8.125,-0.03),(8.175,0.07),(8.225,0.01),(8.275,-0.07),(8.325,0.05),(8.375,0.11),(8.425,-0.01),(8.475,0.05),(8.525,0.13),(8.575,-0.01),(8.625,0.07),(8.675,-0.05),(8.725,0.09),(8.775,0.03),(8.825,0.15),(8.875,0.01),(8.925,0.07),(8.975,0.09),
(9.025,0.03),(9.075,0.07),(9.125,-0.03),(9.175,0.11),(9.225,0.05),(9.275,0.13),(9.325,0.01),(9.375,0.07),(9.425,0.17),(9.475,0.05),(9.525,-0.05),(9.575,0.09),(9.625,0.15),(9.675,0.03),(9.725,0.09),(9.775,0.07),(9.825,0.17),(9.875,0.03),(9.925,0.09),(9.975,0.01)]
pts_e3 = [(0.01,0.04),(0.12,-0.08),(0.21,0.12),(0.32,-0.02),(0.41,0.06),(0.52,-0.12),(0.61,0.02),(0.72,0.08),(0.81,-0.06),(0.92,0.0),
(1.01,-0.04),(1.12,0.06),(1.21,-0.1),(1.32,0.02),(1.41,0.1),(1.52,-0.06),(1.61,0.04),(1.72,0.12),(1.81,0.0),(1.92,0.08),
(2.01,0.12),(2.12,0.18),(2.21,0.08),(2.32,0.22),(2.41,0.26),(2.52,0.18),(2.61,0.32),(2.72,0.24),(2.81,0.3),(2.92,0.2),
(3.01,0.28),(3.12,0.22),(3.21,0.12),(3.32,0.06),(3.41,-0.02),(3.52,0.04),(3.61,-0.08),(3.72,0.0),(3.81,-0.12),(3.92,-0.06),
(4.01,-0.12),(4.12,-0.2),(4.21,-0.08),(4.32,-0.16),(4.41,-0.04),(4.52,-0.14),(4.61,-0.22),(4.72,-0.1),(4.81,-0.18),(4.92,-0.06),
(5.01,-0.14),(5.12,-0.2),(5.21,-0.08),(5.32,-0.16),(5.41,-0.12),(5.52,-0.24),(5.61,-0.1),(5.72,-0.18),(5.81,-0.06),(5.92,-0.14),
(6.01,-0.2),(6.12,-0.1),(6.21,-0.16),(6.32,-0.24),(6.41,-0.12),(6.52,-0.18),(6.61,-0.08),(6.72,-0.22),(6.81,-0.14),(6.92,-0.2),
(7.01,-0.1),(7.12,-0.16),(7.21,-0.04),(7.32,-0.12),(7.41,-0.08),(7.52,-0.14),(7.61,-0.02),(7.72,-0.1),(7.81,-0.06),(7.92,0.0),
(8.01,-0.04),(8.12,0.04),(8.21,-0.02),(8.32,0.08),(8.41,0.0),(8.52,0.06),(8.61,-0.06),(8.72,0.1),(8.81,0.02),(8.92,0.12),
(9.01,0.04),(9.12,0.1),(9.21,0.0),(9.32,0.14),(9.41,0.06),(9.52,-0.02),(9.61,0.12),(9.72,0.08),(9.81,0.16),(9.92,0.04)]

pts_f = [(0.02,0.11),(0.05,0.24),(0.1,0.02),(0.15,0.14),(0.2,0.06),(0.25,0.21),(0.3,-0.04),(0.35,0.08),(0.4,0.03),(0.45,0.18),(0.5,-0.06),(0.55,0.08),(0.6,0.14),(0.65,0.01),(0.7,0.22),(0.75,0.06),(0.8,-0.04),(0.85,0.12),(0.9,0.26),(0.95,0.02),
(1.0,0.08),(1.05,-0.11),(1.1,0.16),(1.15,0.02),(1.2,0.22),(1.25,-0.04),(1.3,0.12),(1.4,0.04),(1.45,0.18),(1.5,-0.08),(1.55,0.12),(1.6,-0.02),(1.7,0.19),(1.75,0.06),(1.8,-0.14),(1.85,0.09),(1.9,-0.17),(1.95,0.37),
(2.0,0.16),(2.05,-0.06),(2.1,0.24),(2.15,0.08),(2.2,0.38),(2.25,0.18),(2.3,-0.09),(2.35,0.12),(2.4,0.31),(2.5,0.04),(2.55,0.22),(2.6,0.11),(2.65,-0.03),(2.7,0.27),(2.75,0.14),(2.8,0.02),(2.85,0.32),(2.9,0.12),(2.95,0.22),
(3.0,0.06),(3.05,0.18),(3.1,0.28),(3.2,0.08),(3.25,-0.02),(3.3,0.22),(3.35,0.33),(3.4,0.16),(3.5,0.03),(3.55,0.24),(3.6,0.12),(3.7,0.29),(3.75,0.01),(3.8,0.21),(3.85,0.08),(3.9,0.28),(3.95,0.14),
(4.0,0.22),(4.05,0.06),(4.1,0.32),(4.15,0.12),(4.2,-0.09),(4.3,0.18),(4.35,0.08),(4.4,0.26),(4.5,0.02),(4.55,0.16),(4.6,0.31),(4.65,0.4),(4.7,0.09),(4.75,0.19),(4.8,-0.06),(4.85,0.13),(4.9,0.34),(4.95,0.08),
(5.0,0.21),(5.05,0.11),(5.1,0.36),(5.15,0.04),(5.2,0.24),(5.3,0.16),(5.35,-0.01),(5.4,0.22),(5.5,0.08),(5.55,-0.13),(5.6,0.29),(5.65,0.06),(5.7,0.18),(5.75,-0.14),(5.8,0.12),(5.85,0.28),(5.9,0.02),(5.95,0.14),
(6.0,0.22),(6.05,0.04),(6.1,0.31),(6.15,0.12),(6.2,-0.04),(6.3,0.18),(6.35,0.08),(6.4,0.24),(6.45,-0.08),(6.5,0.43),(6.55,0.11),(6.6,-0.16),(6.65,0.21),(6.7,0.06),(6.75,0.28),(6.8,-0.11),(6.9,0.16),(6.95,0.02),
(7.0,0.09),(7.05,-0.18),(7.1,0.19),(7.15,0.04),(7.2,-0.06),(7.3,0.26),(7.35,0.12),(7.4,-0.08),(7.5,0.14),(7.55,0.02),(7.6,0.31),(7.7,0.12),(7.75,0.38),(7.8,0.21),(7.85,0.04),(7.9,0.34),(7.95,0.12),
(8.0,0.22),(8.05,0.06),(8.1,0.16),(8.15,-0.08),(8.2,0.28),(8.3,0.09),(8.35,0.18),(8.4,0.01),(8.5,0.24),(8.55,0.12),(8.6,-0.04),(8.7,0.19),(8.75,0.08),(8.8,0.29),(8.85,0.45),(8.9,0.36),(8.95,0.14),
(9.0,0.06),(9.05,0.22),(9.1,-0.01),(9.15,0.16),(9.2,0.28),(9.3,0.11),(9.35,-0.02),(9.4,0.19),(9.5,0.12),(9.55,0.26),(9.6,0.01),(9.65,0.08),(9.7,0.18),(9.75,-0.08),(9.8,0.12),(9.85,0.22),(9.9,-0.13),(9.95,0.09),(10.0,0.14)]
pts_f2 = [(0.025,0.07),(0.075,0.13),(0.125,0.09),(0.175,0.01),(0.225,0.11),(0.275,0.15),(0.325,0.03),(0.375,0.07),(0.425,0.13),(0.475,-0.01),(0.525,0.09),(0.575,0.17),(0.625,0.05),(0.675,0.11),(0.725,0.03),(0.775,0.13),(0.825,0.07),(0.875,-0.03),(0.925,0.09),(0.975,0.15),
(1.025,0.03),(1.075,0.11),(1.125,0.05),(1.175,0.13),(1.225,0.01),(1.275,0.09),(1.325,0.17),(1.375,0.05),(1.425,0.11),(1.475,0.03),(1.525,0.07),(1.575,0.15),(1.625,0.03),(1.675,0.11),(1.725,-0.01),(1.775,0.13),(1.825,0.07),(1.875,0.17),(1.925,0.03),(1.975,0.09),
(2.025,0.07),(2.075,0.15),(2.125,0.03),(2.175,0.13),(2.225,0.21),(2.275,0.09),(2.325,0.05),(2.375,0.17),(2.425,0.23),(2.475,0.11),(2.525,0.07),(2.575,0.15),(2.625,0.19),(2.675,0.05),(2.725,0.17),(2.775,0.09),(2.825,0.25),(2.875,0.13),(2.925,0.03),(2.975,0.19),
(3.025,0.11),(3.075,0.21),(3.125,0.07),(3.175,0.15),(3.225,0.23),(3.275,0.09),(3.325,0.17),(3.375,0.05),(3.425,0.19),(3.475,0.13),(3.525,0.17),(3.575,0.07),(3.625,0.25),(3.675,0.15),(3.725,0.09),(3.775,0.21),(3.825,0.13),(3.875,0.03),(3.925,0.19),(3.975,0.11),
(4.025,0.15),(4.075,0.21),(4.125,0.09),(4.175,0.05),(4.225,0.19),(4.275,0.11),(4.325,0.23),(4.375,0.13),(4.425,0.03),(4.475,0.17),(4.525,0.09),(4.575,0.25),(4.625,0.15),(4.675,0.21),(4.725,0.07),(4.775,0.17),(4.825,0.27),(4.875,0.11),(4.925,0.19),(4.975,0.13),
(5.025,0.13),(5.075,0.19),(5.125,0.07),(5.175,0.15),(5.225,0.21),(5.275,0.05),(5.325,0.11),(5.375,0.17),(5.425,0.09),(5.475,0.01),(5.525,0.15),(5.575,0.21),(5.625,0.11),(5.675,0.07),(5.725,0.13),(5.775,0.03),(5.825,0.19),(5.875,0.09),(5.925,0.17),(5.975,0.05),
(6.025,0.11),(6.075,0.19),(6.125,0.07),(6.175,0.13),(6.225,0.03),(6.275,0.21),(6.325,0.09),(6.375,0.15),(6.425,0.05),(6.475,0.11),(6.525,0.17),(6.575,0.01),(6.625,0.09),(6.675,0.15),(6.725,0.07),(6.775,0.17),(6.825,0.03),(6.875,0.11),(6.925,0.21),(6.975,0.07),
(7.025,0.13),(7.075,0.03),(7.125,0.09),(7.175,0.17),(7.225,0.07),(7.275,0.13),(7.325,0.01),(7.375,0.19),(7.425,0.09),(7.475,0.05),(7.525,0.21),(7.575,0.11),(7.625,0.07),(7.675,0.15),(7.725,0.23),(7.775,0.09),(7.825,0.17),(7.875,0.05),(7.925,0.19),(7.975,0.11),
(8.025,0.15),(8.075,0.07),(8.125,0.21),(8.175,0.11),(8.225,0.03),(8.275,0.17),(8.325,0.09),(8.375,0.23),(8.425,0.13),(8.475,0.05),(8.525,0.19),(8.575,0.09),(8.625,0.15),(8.675,0.03),(8.725,0.13),(8.775,0.21),(8.825,0.11),(8.875,0.17),(8.925,0.07),(8.975,0.13),
(9.025,0.17),(9.075,0.07),(9.125,0.13),(9.175,0.03),(9.225,0.19),(9.275,0.09),(9.325,0.15),(9.375,0.05),(9.425,0.11),(9.475,0.21),(9.525,0.07),(9.575,0.15),(9.625,0.09),(9.675,0.03),(9.725,0.13),(9.775,0.17),(9.825,0.07),(9.875,0.13),(9.925,0.09),(9.975,0.05)]
pts_f3 = [(0.01,0.08),(0.12,0.14),(0.21,0.04),(0.32,0.18),(0.41,0.1),(0.52,0.0),(0.61,0.12),(0.72,0.2),(0.81,0.06),(0.92,0.14),
(1.01,0.02),(1.12,0.12),(1.21,0.18),(1.32,0.08),(1.41,0.14),(1.52,0.04),(1.61,0.1),(1.72,0.22),(1.81,0.06),(1.92,0.16),
(2.01,0.12),(2.12,0.2),(2.21,0.08),(2.32,0.26),(2.41,0.14),(2.52,0.04),(2.61,0.18),(2.72,0.1),(2.81,0.24),(2.92,0.16),
(3.01,0.2),(3.12,0.1),(3.21,0.28),(3.32,0.14),(3.41,0.06),(3.52,0.22),(3.61,0.16),(3.72,0.1),(3.81,0.26),(3.92,0.18),
(4.01,0.12),(4.12,0.24),(4.21,0.06),(4.32,0.18),(4.41,0.28),(4.52,0.14),(4.61,0.2),(4.72,0.08),(4.81,0.22),(4.92,0.16),
(5.01,0.1),(5.12,0.2),(5.21,0.04),(5.32,0.16),(5.41,0.24),(5.52,0.12),(5.61,0.06),(5.72,0.18),(5.81,0.1),(5.92,0.22),
(6.01,0.14),(6.12,0.06),(6.21,0.2),(6.32,0.1),(6.41,0.16),(6.52,0.02),(6.61,0.12),(6.72,0.22),(6.81,0.08),(6.92,0.18),
(7.01,0.1),(7.12,0.16),(7.21,0.04),(7.32,0.2),(7.41,0.12),(7.52,0.24),(7.61,0.08),(7.72,0.14),(7.81,0.18),(7.92,0.06),
(8.01,0.16),(8.12,0.1),(8.21,0.22),(8.32,0.04),(8.41,0.14),(8.52,0.2),(8.61,0.12),(8.72,0.26),(8.81,0.08),(8.92,0.18),
(9.01,0.12),(9.12,0.02),(9.21,0.18),(9.32,0.1),(9.41,0.2),(9.52,0.06),(9.61,0.14),(9.72,0.08),(9.81,0.16),(9.92,0.1)]

pts_g = [(0.0,-0.5),(0.02,-0.32),(0.05,0.0),(0.08,-0.15),(0.12,0.18),(0.15,-0.05),(0.2,-0.22),(0.25,0.05),(0.3,-0.12),(0.35,-0.4),(0.38,-0.2),(0.4,-0.35),(0.45,-0.02),(0.5,-0.18),(0.55,0.1),(0.6,-0.08),(0.65,-0.3),(0.7,0.02),(0.75,-0.12),(0.8,0.05),(0.85,-0.05),(0.9,0.12),(0.95,0.0),
(1.0,0.08),(1.05,-0.1),(1.1,0.2),(1.15,0.32),(1.2,0.4),(1.25,0.44),(1.28,0.25),(1.3,0.12),(1.35,0.3),(1.4,-0.05),(1.45,0.05),(1.5,-0.15),(1.55,0.1),(1.6,-0.28),(1.65,0.0),(1.7,-0.1),(1.75,0.15),(1.8,-0.05),(1.85,0.05),(1.9,-0.2),(1.95,0.2),
(2.0,-0.15),(2.05,0.02),(2.1,-0.1),(2.15,-0.25),(2.2,-0.43),(2.22,-0.33),(2.25,0.05),(2.3,0.1),(2.35,-0.05),(2.4,0.15),(2.5,0.2),(2.55,0.08),(2.6,0.25),(2.65,0.12),(2.7,0.46),(2.75,0.3),(2.8,0.18),(2.85,0.05),(2.9,0.22),(2.95,-0.15),
(3.0,0.2),(3.05,0.35),(3.1,0.1),(3.15,0.25),(3.2,0.4),(3.25,0.15),(3.3,0.3),(3.35,0.05),(3.4,0.43),(3.45,0.2),(3.5,-0.02),(3.55,-0.1),(3.6,0.05),(3.65,-0.15),(3.7,-0.05),(3.75,0.1),(3.8,-0.2),(3.85,0.0),(3.9,-0.27),(3.95,-0.1),
(4.0,0.05),(4.05,-0.15),(4.1,0.12),(4.15,-0.05),(4.2,0.2),(4.3,0.0),(4.35,-0.25),(4.4,0.1),(4.45,0.3),(4.5,0.15),(4.55,0.25),(4.6,0.43),(4.65,0.2),(4.7,0.1),(4.75,0.28),(4.8,0.05),(4.85,0.22),(4.9,0.35),(4.95,0.15),
(5.0,0.59),(5.05,0.55),(5.1,0.2),(5.15,0.3),(5.2,0.1),(5.25,0.22),(5.3,0.38),(5.35,0.15),(5.4,0.48),(5.45,0.25),(5.5,0.05),(5.55,0.12),(5.6,-0.05),(5.65,0.1),(5.7,0.02),(5.75,-0.1),(5.8,0.05),(5.85,-0.05),(5.9,-0.2),(5.95,0.08),
(6.0,0.2),(6.05,0.47),(6.1,0.7),(6.12,0.79),(6.15,0.75),(6.18,0.66),(6.2,0.56),(6.25,0.35),(6.3,0.15),(6.35,0.05),(6.4,0.25),(6.45,-0.05),(6.5,0.42),(6.55,0.1),(6.6,0.2),(6.65,-0.1),(6.7,0.05),(6.8,0.15),(6.85,-0.05),(6.9,0.2),(6.95,0.0),
(7.0,-0.1),(7.05,0.1),(7.1,-0.05),(7.15,0.02),(7.2,-0.28),(7.25,-0.15),(7.3,0.05),(7.35,-0.1),(7.4,0.2),(7.45,0.0),(7.5,0.15),(7.55,0.25),(7.6,0.33),(7.65,0.1),(7.7,-0.05),(7.75,-0.18),(7.8,-0.26),(7.85,-0.1),(7.9,-0.2),(7.95,0.0),
(8.0,-0.15),(8.05,-0.05),(8.1,-0.2),(8.15,0.05),(8.2,-0.1),(8.3,0.1),(8.35,-0.05),(8.4,0.2),(8.45,-0.15),(8.5,0.0),(8.55,-0.25),(8.6,-0.1),(8.65,-0.35),(8.7,-0.2),(8.72,-0.45),(8.75,-0.5),(8.8,-0.3),(8.85,0.0),(8.9,0.22),(8.95,-0.05),
(9.0,0.1),(9.05,0.0),(9.1,0.2),(9.15,0.42),(9.2,0.3),(9.25,0.1),(9.3,0.54),(9.35,0.2),(9.4,0.05),(9.45,0.35),(9.5,0.15),(9.55,-0.05),(9.6,0.25),(9.65,0.1),(9.7,-0.2),(9.75,0.0),(9.8,0.15),(9.85,-0.08),(9.9,0.1),(9.95,0.05),(10.0,-0.05)]
pts_g2 = [(0.025,-0.12),(0.075,-0.22),(0.125,-0.05),(0.175,-0.15),(0.225,0.02),(0.275,-0.18),(0.325,-0.08),(0.375,-0.26),(0.425,-0.12),(0.475,-0.03),(0.525,-0.1),(0.575,0.02),(0.625,-0.06),(0.675,-0.14),(0.725,0.0),(0.775,-0.04),(0.825,0.06),(0.875,-0.08),(0.925,0.03),(0.975,-0.02),
(1.025,0.12),(1.075,0.05),(1.125,0.25),(1.175,0.18),(1.225,0.3),(1.275,0.35),(1.325,0.2),(1.375,0.08),(1.425,0.02),(1.475,-0.08),(1.525,0.04),(1.575,-0.12),(1.625,0.08),(1.675,-0.04),(1.725,0.02),(1.775,-0.1),(1.825,0.1),(1.875,-0.02),(1.925,0.05),(1.975,-0.08),
(2.025,-0.05),(2.075,-0.12),(2.125,-0.2),(2.175,-0.08),(2.225,-0.15),(2.275,-0.02),(2.325,0.05),(2.375,0.12),(2.425,0.04),(2.475,0.1),(2.525,0.16),(2.575,0.22),(2.625,0.12),(2.675,0.18),(2.725,0.25),(2.775,0.1),(2.825,0.2),(2.875,0.14),(2.925,0.28),(2.975,0.1),
(3.025,0.25),(3.075,0.15),(3.125,0.3),(3.175,0.2),(3.225,0.28),(3.275,0.22),(3.325,0.12),(3.375,0.25),(3.425,0.32),(3.475,0.1),(3.525,0.04),(3.575,-0.05),(3.625,-0.1),(3.675,0.02),(3.725,-0.12),(3.775,-0.03),(3.825,-0.08),(3.875,-0.15),(3.925,0.0),(3.975,-0.06),
(4.025,-0.1),(4.075,0.0),(4.125,-0.05),(4.175,0.08),(4.225,-0.02),(4.275,0.05),(4.325,-0.1),(4.375,0.12),(4.425,0.05),(4.475,0.2),(4.525,0.1),(4.575,0.18),(4.625,0.25),(4.675,0.14),(4.725,0.2),(4.775,0.16),(4.825,0.1),(4.875,0.25),(4.925,0.2),(4.975,0.3),
(5.025,0.22),(5.075,0.14),(5.125,0.26),(5.175,0.2),(5.225,0.3),(5.275,0.16),(5.325,0.24),(5.375,0.28),(5.425,0.18),(5.475,0.1),(5.525,0.15),(5.575,0.0),(5.625,0.08),(5.675,-0.02),(5.725,0.06),(5.775,0.0),(5.825,-0.08),(5.875,0.03),(5.925,-0.04),(5.975,0.12),
(6.025,0.3),(6.075,0.38),(6.125,0.6),(6.175,0.45),(6.225,0.3),(6.275,0.22),(6.325,0.1),(6.375,0.18),(6.425,0.08),(6.475,0.15),(6.525,0.02),(6.575,0.12),(6.625,0.05),(6.675,0.1),(6.725,-0.02),(6.775,0.08),(6.825,0.02),(6.875,0.1),(6.925,-0.04),(6.975,0.05),
(7.025,-0.02),(7.075,-0.08),(7.125,0.04),(7.175,-0.12),(7.225,-0.04),(7.275,0.02),(7.325,-0.08),(7.375,0.0),(7.425,0.08),(7.475,0.12),(7.525,0.05),(7.575,0.18),(7.625,0.22),(7.675,0.02),(7.725,-0.1),(7.775,-0.12),(7.825,-0.2),(7.875,-0.15),(7.925,-0.08),(7.975,-0.18),
(8.025,-0.1),(8.075,-0.16),(8.125,-0.12),(8.175,-0.02),(8.225,-0.18),(8.275,-0.06),(8.325,-0.12),(8.375,0.02),(8.425,-0.08),(8.475,-0.14),(8.525,-0.05),(8.575,-0.18),(8.625,-0.22),(8.675,-0.12),(8.725,-0.28),(8.775,-0.18),(8.825,-0.1),(8.875,0.08),(8.925,0.02),(8.975,0.1),
(9.025,0.05),(9.075,0.15),(9.125,0.25),(9.175,0.12),(9.225,0.2),(9.275,0.35),(9.325,0.25),(9.375,0.12),(9.425,0.18),(9.475,0.08),(9.525,0.22),(9.575,0.1),(9.625,0.02),(9.675,0.12),(9.725,-0.05),(9.775,0.08),(9.825,0.02),(9.875,0.1),(9.925,-0.02),(9.975,0.06)]
pts_g3 = [(0.01,-0.16),(0.12,-0.04),(0.21,-0.22),(0.32,-0.08),(0.41,-0.14),(0.52,-0.06),(0.61,0.04),(0.72,-0.1),(0.81,0.02),(0.92,-0.04),
(1.01,0.16),(1.12,0.24),(1.21,0.34),(1.32,0.28),(1.41,0.06),(1.52,-0.06),(1.61,0.08),(1.72,-0.04),(1.81,0.02),(1.92,-0.1),
(2.01,-0.08),(2.12,-0.16),(2.21,-0.12),(2.32,0.06),(2.41,0.18),(2.52,0.1),(2.61,0.2),(2.72,0.14),(2.81,0.24),(2.92,0.16),
(3.01,0.18),(3.12,0.28),(3.21,0.24),(3.32,0.16),(3.41,0.3),(3.52,-0.04),(3.61,-0.1),(3.72,0.02),(3.81,-0.14),(3.92,-0.06),
(4.01,-0.02),(4.12,-0.08),(4.21,0.04),(4.32,0.08),(4.41,0.1),(4.52,0.22),(4.61,0.16),(4.72,0.26),(4.81,0.2),(4.92,0.28),
(5.01,0.26),(5.12,0.18),(5.21,0.24),(5.32,0.32),(5.41,0.2),(5.52,0.06),(5.61,0.1),(5.72,-0.02),(5.81,0.04),(5.92,-0.06),
(6.01,0.26),(6.12,0.52),(6.21,0.4),(6.32,0.14),(6.41,0.2),(6.52,0.04),(6.61,0.12),(6.72,0.16),(6.81,0.02),(6.92,0.08),
(7.01,-0.04),(7.12,0.02),(7.21,-0.1),(7.32,0.04),(7.41,0.1),(7.52,0.2),(7.61,0.26),(7.72,-0.06),(7.81,-0.16),(7.92,-0.12),
(8.01,-0.08),(8.12,-0.18),(8.21,-0.1),(8.32,-0.04),(8.41,-0.14),(8.52,-0.2),(8.61,-0.16),(8.72,-0.26),(8.81,-0.22),(8.92,0.04),
(9.01,0.12),(9.12,0.22),(9.21,0.3),(9.32,0.18),(9.41,0.26),(9.52,0.12),(9.61,0.04),(9.72,0.16),(9.81,0.0),(9.92,0.08)]

pts_h = [(0.02,-0.04),(0.05,0.01),(0.08,-0.16),(0.1,-0.24),(0.15,-0.02),(0.2,-0.09),(0.25,-0.29),(0.3,-0.38),(0.35,0.04),(0.4,-0.19),(0.45,0.18),(0.5,-0.44),(0.55,-0.06),(0.6,0.12),(0.65,-0.14),(0.7,0.02),(0.75,0.17),(0.8,-0.11),(0.85,0.06),(0.9,-0.22),(0.95,0.02),
(1.0,-0.12),(1.05,0.08),(1.1,-0.18),(1.15,-0.04),(1.2,0.13),(1.25,-0.26),(1.3,-0.01),(1.35,-0.09),(1.4,0.04),(1.45,-0.21),(1.5,0.18),(1.55,-0.08),(1.6,-0.34),(1.65,0.09),(1.7,-0.02),(1.75,-0.16),(1.8,-0.45),(1.85,-0.28),(1.9,-0.11),(1.95,-0.19),
(2.0,-0.31),(2.02,-0.4),(2.05,-0.18),(2.1,-0.52),(2.12,-0.33),(2.15,-0.06),(2.2,0.09),(2.25,0.02),(2.3,0.26),(2.35,0.04),(2.4,0.12),(2.5,-0.02),(2.55,0.16),(2.6,0.08),(2.7,0.18),(2.75,0.06),(2.8,0.12),(2.85,0.22),(2.9,0.11),(2.95,0.28),
(3.0,0.36),(3.02,0.33),(3.05,0.19),(3.1,0.12),(3.15,0.24),(3.2,0.04),(3.25,0.16),(3.3,-0.04),(3.4,0.08),(3.45,0.21),(3.5,-0.11),(3.55,0.02),(3.6,0.09),(3.7,-0.14),(3.75,0.06),(3.8,-0.08),(3.85,0.19),(3.9,-0.01),(3.95,-0.12),
(4.0,-0.06),(4.05,-0.19),(4.1,-0.33),(4.15,-0.09),(4.2,0.01),(4.25,-0.24),(4.3,-0.12),(4.35,0.08),(4.4,-0.04),(4.5,0.06),(4.55,-0.11),(4.6,0.14),(4.65,0.02),(4.7,0.21),(4.75,0.04),(4.8,-0.06),(4.85,0.12),(4.9,0.02),(4.95,0.38),
(5.0,0.24),(5.05,-0.01),(5.1,0.11),(5.15,-0.09),(5.2,-0.03),(5.3,-0.06),(5.35,-0.21),(5.4,-0.11),(5.45,-0.29),(5.5,-0.42),(5.55,-0.16),(5.6,-0.24),(5.65,-0.06),(5.7,-0.32),(5.75,-0.18),(5.8,-0.09),(5.85,-0.28),(5.9,-0.45),(5.95,-0.21),
(6.0,-0.12),(6.05,-0.29),(6.1,-0.22),(6.15,-0.38),(6.2,-0.06),(6.25,-0.26),(6.3,-0.14),(6.35,-0.32),(6.4,-0.19),(6.45,-0.42),(6.5,-0.11),(6.55,-0.24),(6.6,-0.18),(6.65,-0.36),(6.7,-0.04),(6.75,-0.28),(6.8,-0.16),(6.85,-0.31),(6.9,-0.22),(6.95,-0.49),
(7.0,-0.12),(7.05,-0.26),(7.1,0.02),(7.15,-0.14),(7.2,-0.06),(7.25,-0.42),(7.3,-0.19),(7.35,-0.09),(7.4,-0.31),(7.45,0.04),(7.5,-0.16),(7.55,-0.04),(7.6,0.08),(7.65,-0.12),(7.7,-0.02),(7.75,0.11),(7.8,-0.08),(7.85,0.06),(7.9,0.14),(7.95,-0.02),
(8.0,0.36),(8.02,0.33),(8.05,0.09),(8.1,0.01),(8.15,0.16),(8.2,0.24),(8.25,-0.06),(8.3,0.12),(8.35,0.04),(8.4,-0.09),(8.45,0.21),(8.5,-0.29),(8.52,-0.21),(8.55,0.08),(8.6,-0.02),(8.65,0.16),(8.7,0.06),(8.8,0.22),(8.85,0.11),(8.9,0.29),(8.95,0.14),
(9.0,0.06),(9.05,0.26),(9.1,0.14),(9.15,0.34),(9.2,0.21),(9.25,0.09),(9.3,-0.08),(9.35,0.28),(9.4,0.18),(9.45,0.04),(9.5,0.31),(9.55,0.38),(9.6,0.22),(9.65,0.12),(9.7,0.28),(9.75,0.06),(9.8,0.19),(9.85,0.32),(9.9,0.16),(9.95,0.24),(10.0,0.43),(10.0,0.33)]
pts_h2 = [(0.025,-0.11),(0.075,-0.03),(0.125,-0.17),(0.175,-0.07),(0.225,0.01),(0.275,-0.13),(0.325,-0.05),(0.375,-0.15),(0.425,-0.01),(0.475,-0.09),(0.525,0.05),(0.575,-0.11),(0.625,-0.05),(0.675,-0.21),(0.725,-0.09),(0.775,0.03),(0.825,-0.15),(0.875,-0.03),(0.925,-0.13),(0.975,0.01),
(1.025,-0.07),(1.075,-0.15),(1.125,0.03),(1.175,-0.11),(1.225,-0.05),(1.275,0.05),(1.325,-0.07),(1.375,-0.17),(1.425,-0.03),(1.475,-0.09),(1.525,0.01),(1.575,-0.05),(1.625,-0.13),(1.675,-0.03),(1.725,-0.11),(1.775,-0.23),(1.825,-0.15),(1.875,-0.19),(1.925,-0.31),(1.975,-0.13),
(2.025,-0.23),(2.075,-0.27),(2.125,-0.15),(2.175,-0.21),(2.225,-0.01),(2.275,0.07),(2.325,-0.03),(2.375,0.11),(2.425,0.03),(2.475,0.07),(2.525,0.13),(2.575,0.05),(2.625,0.15),(2.675,0.09),(2.725,0.11),(2.775,0.19),(2.825,0.13),(2.875,0.07),(2.925,0.17),(2.975,0.23),
(3.025,0.25),(3.075,0.15),(3.125,0.21),(3.175,0.09),(3.225,0.15),(3.275,0.07),(3.325,0.13),(3.375,0.03),(3.425,0.11),(3.475,0.05),(3.525,0.11),(3.575,-0.05),(3.625,0.05),(3.675,0.01),(3.725,0.07),(3.775,-0.03),(3.825,0.07),(3.875,-0.09),(3.925,0.03),(3.975,-0.05),
(4.025,-0.11),(4.075,-0.13),(4.125,-0.05),(4.175,-0.17),(4.225,-0.09),(4.275,-0.03),(4.325,-0.15),(4.375,-0.07),(4.425,0.01),(4.475,-0.07),(4.525,0.03),(4.575,0.09),(4.625,-0.01),(4.675,0.11),(4.725,0.05),(4.775,0.13),(4.825,0.01),(4.875,0.07),(4.925,-0.03),(4.975,0.09),
(5.025,0.03),(5.075,-0.05),(5.125,0.05),(5.175,-0.03),(5.225,-0.11),(5.275,-0.01),(5.325,-0.09),(5.375,-0.15),(5.425,-0.23),(5.475,-0.13),(5.525,-0.21),(5.575,-0.27),(5.625,-0.19),(5.675,-0.25),(5.725,-0.15),(5.775,-0.31),(5.825,-0.19),(5.875,-0.27),(5.925,-0.17),(5.975,-0.29),
(6.025,-0.21),(6.075,-0.17),(6.125,-0.29),(6.175,-0.19),(6.225,-0.31),(6.275,-0.17),(6.325,-0.23),(6.375,-0.13),(6.425,-0.27),(6.475,-0.21),(6.525,-0.33),(6.575,-0.23),(6.625,-0.11),(6.675,-0.25),(6.725,-0.19),(6.775,-0.29),(6.825,-0.21),(6.875,-0.13),(6.925,-0.17),(6.975,-0.27),
(7.025,-0.19),(7.075,-0.11),(7.125,-0.21),(7.175,-0.07),(7.225,-0.15),(7.275,-0.13),(7.325,-0.05),(7.375,-0.17),(7.425,-0.09),(7.475,-0.15),(7.525,-0.03),(7.575,-0.11),(7.625,0.01),(7.675,-0.07),(7.725,-0.11),(7.775,0.03),(7.825,-0.05),(7.875,-0.09),(7.925,0.05),(7.975,0.11),
(8.025,0.17),(8.075,0.05),(8.125,0.13),(8.175,0.03),(8.225,0.09),(8.275,0.15),(8.325,0.01),(8.375,0.11),(8.425,0.05),(8.475,-0.05),(8.525,-0.11),(8.575,-0.01),(8.625,-0.07),(8.675,0.09),(8.725,0.19),(8.775,0.13),(8.825,0.05),(8.875,0.21),(8.925,0.11),(8.975,0.23),
(9.025,0.19),(9.075,0.11),(9.125,0.21),(9.175,0.15),(9.225,0.27),(9.275,0.21),(9.325,0.13),(9.375,0.25),(9.425,0.15),(9.475,0.31),(9.525,0.19),(9.575,0.27),(9.625,0.17),(9.675,0.29),(9.725,0.23),(9.775,0.15),(9.825,0.25),(9.875,0.21),(9.925,0.33),(9.975,0.31)]
pts_h3 = [(0.01,-0.04),(0.12,-0.12),(0.21,-0.2),(0.32,-0.06),(0.41,-0.14),(0.52,0.02),(0.61,-0.1),(0.72,-0.16),(0.81,-0.02),(0.92,-0.08),
(1.01,-0.12),(1.12,0.0),(1.21,-0.08),(1.32,-0.18),(1.41,-0.04),(1.52,0.02),(1.61,-0.12),(1.72,-0.06),(1.81,-0.22),(1.92,-0.26),
(2.01,-0.18),(2.12,-0.24),(2.21,0.02),(2.32,0.08),(2.41,0.04),(2.52,0.12),(2.61,0.06),(2.72,0.16),(2.81,0.1),(2.92,0.2),
(3.01,0.22),(3.12,0.16),(3.21,0.1),(3.32,0.04),(3.41,0.12),(3.52,0.0),(3.61,0.08),(3.72,-0.04),(3.81,0.06),(3.92,0.0),
(4.01,-0.08),(4.12,-0.16),(4.21,-0.12),(4.32,-0.04),(4.41,-0.14),(4.52,0.0),(4.61,0.06),(4.72,0.1),(4.81,0.02),(4.92,0.08),
(5.01,0.0),(5.12,-0.08),(5.21,-0.14),(5.32,-0.06),(5.41,-0.2),(5.52,-0.26),(5.61,-0.18),(5.72,-0.28),(5.81,-0.22),(5.92,-0.32),
(6.01,-0.24),(6.12,-0.18),(6.21,-0.3),(6.32,-0.22),(6.41,-0.26),(6.52,-0.16),(6.61,-0.28),(6.72,-0.2),(6.81,-0.24),(6.92,-0.3),
(7.01,-0.16),(7.12,-0.1),(7.21,-0.2),(7.32,-0.14),(7.41,-0.06),(7.52,-0.12),(7.61,-0.02),(7.72,-0.08),(7.81,0.02),(7.92,-0.04),
(8.01,0.12),(8.12,0.04),(8.21,0.08),(8.32,0.0),(8.41,0.14),(8.52,-0.04),(8.61,0.06),(8.72,0.12),(8.81,0.18),(8.92,0.14),
(9.01,0.16),(9.12,0.22),(9.21,0.12),(9.32,0.26),(9.41,0.2),(9.52,0.28),(9.61,0.18),(9.72,0.24),(9.81,0.3),(9.92,0.26)]

pts_i = [(0.02,-0.6),(0.05,-0.5),(0.08,-0.65),(0.1,-0.55),(0.12,-0.45),(0.15,-0.87),(0.18,-0.62),(0.2,-0.8),(0.22,-0.7),(0.25,-0.55),(0.28,-0.93),(0.3,-0.6),(0.35,-0.48),(0.4,-0.65),(0.45,-0.55),(0.5,-0.58),(0.55,-0.42),(0.6,-0.5),(0.65,-0.45),(0.7,-0.38),(0.75,-0.48),(0.8,-0.42),(0.85,-0.3),(0.9,-0.45),(0.95,-0.35),
(1.0,-0.4),(1.05,-0.25),(1.1,-0.35),(1.15,-0.15),(1.2,-0.3),(1.25,-0.2),(1.3,0.09),(1.35,-0.12),(1.4,-0.28),(1.45,-0.18),(1.5,-0.35),(1.55,-0.22),(1.6,-0.05),(1.65,-0.3),(1.7,-0.42),(1.75,-0.25),(1.8,-0.15),(1.85,-0.35),(1.9,-0.4),(1.95,-0.2),
(2.0,-0.3),(2.05,-0.45),(2.1,-0.57),(2.15,-0.1),(2.2,-0.35),(2.25,-0.25),(2.3,-0.4),(2.35,-0.18),(2.4,-0.32),(2.45,-0.42),(2.5,-0.25),(2.55,-0.35),(2.6,-0.5),(2.65,-0.15),(2.7,-0.28),(2.75,-0.38),(2.8,-0.2),(2.85,-0.3),(2.9,-0.1),(2.95,-0.35),
(3.0,-0.25),(3.05,-0.4),(3.1,-0.15),(3.15,-0.3),(3.2,-0.2),(3.25,-0.35),(3.3,-0.08),(3.35,-0.28),(3.4,-0.18),(3.5,-0.3),(3.55,-0.05),(3.6,-0.22),(3.65,-0.12),(3.7,-0.35),(3.75,-0.2),(3.8,0.0),(3.85,-0.15),(3.9,-0.38),(3.95,-0.25),(4.0,0.13),
(4.05,-0.1),(4.1,-0.25),(4.15,-0.05),(4.2,-0.18),(4.25,-0.3),(4.3,-0.12),(4.35,0.02),(4.4,-0.2),(4.45,-0.08),(4.5,-0.35),(4.55,0.05),(4.6,0.25),(4.62,-0.15),(4.65,0.12),(4.7,-0.05),(4.75,-0.22),(4.8,0.08),(4.85,-0.1),(4.9,-0.3),(4.95,-0.15),
(5.0,-0.05),(5.05,-0.2),(5.1,-0.12),(5.15,-0.3),(5.2,-0.02),(5.25,-0.18),(5.3,-0.45),(5.35,-0.25),(5.4,-0.1),(5.5,-0.2),(5.55,0.08),(5.6,-0.3),(5.65,-0.15),(5.7,-0.25),(5.75,-0.38),(5.8,-0.1),(5.85,-0.2),(5.9,-0.05),(5.95,-0.3),
(6.0,-0.15),(6.05,-0.25),(6.1,-0.05),(6.15,-0.18),(6.2,0.0),(6.25,-0.12),(6.3,-0.3),(6.35,-0.08),(6.4,0.25),(6.45,-0.2),(6.5,-0.1),(6.55,-0.28),(6.6,-0.18),(6.65,0.1),(6.7,-0.25),(6.75,-0.32),(6.8,-0.22),(6.85,-0.3),(6.9,-0.42),(6.95,-0.25),
(7.0,-0.35),(7.05,-0.2),(7.1,-0.3),(7.15,-0.1),(7.2,-0.25),(7.25,-0.15),(7.3,-0.05),(7.35,-0.2),(7.4,0.05),(7.45,-0.1),(7.5,0.25),(7.55,0.0),(7.6,0.15),(7.65,-0.05),(7.7,0.1),(7.75,0.2),(7.8,0.02),(7.85,0.12),(7.9,0.28),(7.95,0.05),
(8.0,0.15),(8.05,-0.05),(8.1,0.08),(8.15,0.2),(8.2,0.0),(8.25,0.1),(8.3,-0.08),(8.35,0.05),(8.4,0.18),(8.45,-0.02),(8.5,0.12),(8.55,0.22),(8.6,0.05),(8.65,0.15),(8.7,0.29),(8.75,0.08),(8.8,0.18),(8.85,-0.05),(8.9,0.12),(8.95,0.02),
(9.0,0.1),(9.05,-0.1),(9.1,0.05),(9.15,-0.05),(9.2,0.12),(9.25,-0.15),(9.3,0.0),(9.35,-0.08),(9.4,0.08),(9.45,-0.3),(9.5,-0.02),(9.55,0.1),(9.6,-0.12),(9.65,0.0),(9.7,0.15),(9.75,-0.2),(9.8,-0.05),(9.85,0.12),(9.9,-0.25),(9.95,0.02),(10.0,0.15)]
pts_i2 = [(0.025,-0.63),(0.075,-0.55),(0.125,-0.67),(0.175,-0.59),(0.225,-0.65),(0.275,-0.51),(0.325,-0.57),(0.375,-0.61),(0.425,-0.53),(0.475,-0.47),(0.525,-0.55),(0.575,-0.49),(0.625,-0.41),(0.675,-0.49),(0.725,-0.43),(0.775,-0.37),(0.825,-0.45),(0.875,-0.39),(0.925,-0.33),(0.975,-0.43),
(1.025,-0.31),(1.075,-0.37),(1.125,-0.29),(1.175,-0.23),(1.225,-0.35),(1.275,-0.27),(1.325,-0.17),(1.375,-0.25),(1.425,-0.21),(1.475,-0.31),(1.525,-0.25),(1.575,-0.33),(1.625,-0.21),(1.675,-0.37),(1.725,-0.29),(1.775,-0.39),(1.825,-0.27),(1.875,-0.33),(1.925,-0.25),(1.975,-0.35),
(2.025,-0.37),(2.075,-0.31),(2.125,-0.41),(2.175,-0.33),(2.225,-0.43),(2.275,-0.35),(2.325,-0.27),(2.375,-0.39),(2.425,-0.29),(2.475,-0.37),(2.525,-0.39),(2.575,-0.31),(2.625,-0.35),(2.675,-0.23),(2.725,-0.31),(2.775,-0.29),(2.825,-0.35),(2.875,-0.27),(2.925,-0.33),(2.975,-0.21),
(3.025,-0.31),(3.075,-0.23),(3.125,-0.33),(3.175,-0.21),(3.225,-0.29),(3.275,-0.17),(3.325,-0.27),(3.375,-0.19),(3.425,-0.29),(3.475,-0.23),(3.525,-0.15),(3.575,-0.25),(3.625,-0.21),(3.675,-0.27),(3.725,-0.13),(3.775,-0.21),(3.825,-0.19),(3.875,-0.27),(3.925,-0.11),(3.975,-0.19),
(4.025,-0.17),(4.075,-0.07),(4.125,-0.19),(4.175,-0.13),(4.225,-0.03),(4.275,-0.15),(4.325,-0.23),(4.375,-0.11),(4.425,-0.15),(4.475,-0.01),(4.525,-0.11),(4.575,-0.19),(4.625,-0.05),(4.675,0.01),(4.725,-0.13),(4.775,-0.09),(4.825,-0.21),(4.875,-0.05),(4.925,-0.13),(4.975,-0.21),
(5.025,-0.15),(5.075,-0.23),(5.125,-0.17),(5.175,-0.09),(5.225,-0.21),(5.275,-0.13),(5.325,-0.27),(5.375,-0.17),(5.425,-0.23),(5.475,-0.11),(5.525,-0.25),(5.575,-0.19),(5.625,-0.07),(5.675,-0.21),(5.725,-0.15),(5.775,-0.27),(5.825,-0.15),(5.875,-0.09),(5.925,-0.23),(5.975,-0.13),
(6.025,-0.19),(6.075,-0.11),(6.125,-0.15),(6.175,-0.07),(6.225,-0.21),(6.275,-0.13),(6.325,-0.05),(6.375,-0.17),(6.425,-0.09),(6.475,-0.23),(6.525,-0.15),(6.575,-0.05),(6.625,-0.19),(6.675,-0.11),(6.725,-0.25),(6.775,-0.29),(6.825,-0.25),(6.875,-0.33),(6.925,-0.27),(6.975,-0.31),
(7.025,-0.27),(7.075,-0.31),(7.125,-0.23),(7.175,-0.29),(7.225,-0.35),(7.275,-0.17),(7.325,-0.11),(7.375,-0.03),(7.425,-0.13),(7.475,0.03),(7.525,-0.05),(7.575,0.07),(7.625,-0.01),(7.675,0.11),(7.725,0.05),(7.775,0.17),(7.825,0.09),(7.875,0.19),(7.925,0.11),(7.975,0.01),
(8.025,0.11),(8.075,0.03),(8.125,0.13),(8.175,0.07),(8.225,0.17),(8.275,0.05),(8.325,0.13),(8.375,-0.01),(8.425,0.09),(8.475,0.15),(8.525,0.03),(8.575,0.09),(8.625,0.21),(8.675,0.07),(8.725,0.15),(8.775,0.23),(8.825,0.05),(8.875,0.11),(8.925,0.05),(8.975,0.13),
(9.025,0.01),(9.075,0.07),(9.125,-0.03),(9.175,0.09),(9.225,-0.01),(9.275,0.05),(9.325,-0.09),(9.375,0.03),(9.425,-0.07),(9.475,0.05),(9.525,-0.11),(9.575,-0.03),(9.625,0.03),(9.675,-0.07),(9.725,0.01),(9.775,-0.13),(9.825,-0.05),(9.875,0.05),(9.925,-0.11),(9.975,-0.01)]
pts_i3 = [(0.01,-0.66),(0.12,-0.58),(0.21,-0.6),(0.32,-0.54),(0.41,-0.5),(0.52,-0.56),(0.61,-0.46),(0.72,-0.42),(0.81,-0.38),(0.92,-0.4),
(1.01,-0.28),(1.12,-0.34),(1.21,-0.24),(1.32,-0.2),(1.41,-0.3),(1.52,-0.26),(1.61,-0.34),(1.72,-0.22),(1.81,-0.32),(1.92,-0.28),
(2.01,-0.34),(2.12,-0.28),(2.21,-0.38),(2.32,-0.32),(2.41,-0.36),(2.52,-0.3),(2.61,-0.4),(2.72,-0.34),(2.81,-0.26),(2.92,-0.32),
(3.01,-0.28),(3.12,-0.22),(3.21,-0.3),(3.32,-0.2),(3.41,-0.26),(3.52,-0.18),(3.61,-0.24),(3.72,-0.16),(3.81,-0.22),(3.92,-0.14),
(4.01,-0.12),(4.12,-0.18),(4.21,-0.08),(4.32,-0.14),(4.41,-0.2),(4.52,-0.1),(4.61,-0.04),(4.72,-0.16),(4.81,-0.12),(4.92,-0.18),
(5.01,-0.16),(5.12,-0.22),(5.21,-0.12),(5.32,-0.2),(5.41,-0.26),(5.52,-0.16),(5.61,-0.1),(5.72,-0.2),(5.81,-0.14),(5.92,-0.24),
(6.01,-0.12),(6.12,-0.16),(6.21,-0.08),(6.32,-0.18),(6.41,-0.1),(6.52,-0.14),(6.61,-0.2),(6.72,-0.12),(6.81,-0.26),(6.92,-0.3),
(7.01,-0.26),(7.12,-0.32),(7.21,-0.24),(7.32,-0.08),(7.41,-0.02),(7.52,0.0),(7.61,0.08),(7.72,0.12),(7.81,0.06),(7.92,0.14),
(8.01,0.08),(8.12,0.16),(8.21,0.04),(8.32,0.12),(8.41,0.2),(8.52,0.1),(8.61,0.14),(8.72,0.06),(8.81,0.18),(8.92,0.1),
(9.01,-0.02),(9.12,0.04),(9.21,-0.06),(9.32,0.02),(9.41,-0.1),(9.52,0.06),(9.61,-0.04),(9.72,0.0),(9.81,-0.08),(9.92,0.02)]

panel_points = [pts_a + pts_a2 + pts_a3, pts_b + pts_b2 + pts_b3, pts_c + pts_c2 + pts_c3,
                pts_d + pts_d2 + pts_d3, pts_e + pts_e2 + pts_e3, pts_f + pts_f2 + pts_f3,
                pts_g + pts_g2 + pts_g3, pts_h + pts_h2 + pts_h3, pts_i + pts_i2 + pts_i3]

# ---------------- layout / style ----------------
FONT = "Liberation Sans"
AXIS_COLOR = "#7a7a7a"
TEXT_COLOR = "#262626"
FRAME_W, FRAME_H = 187, 181     # visible axes box
HEAD = 32                       # extra frame space above the axes for the title
LEFT_BORDER = [81, 52, 52]
RIGHT_BORDER = 10
TOP_BORDER = [71, 39, 39]       # distance from row top to axes top
BOTTOM_BORDER = [40, 40, 38]
TITLE_BASE_PX = 16.5            # title baseline above axes top
SUB_DROP_PX = 3.5

BOLD_W = {' ': 278, '(': 333, ')': 333, ',': 278, '.': 278, '/': 278, '=': 584,
          'a': 556, 'b': 611, 'c': 556, 'd': 611, 'e': 556, 'f': 333, 'g': 611,
          'h': 611, 'i': 278, 'z': 500}
GREEK_W = {'σ': 600, 'ω': 780}


def text_width(s, size, greek=False):
    tab = GREEK_W if greek else BOLD_W
    return sum(tab.get(ch, 556) for ch in s) * size / 1000.0


def add_title(p, k, ylo, yhi):
    per_px = (yhi - ylo) / FRAME_H
    F, S = 14.0, 10.5
    parts = [  # text, style, size, baseline drop, gap after
        (f"({panel_letters[k]})", "bold", F, 0, 10.0),
        ("σ", "italic", F, 0, 1.0),
        ("z", "bold", S, SUB_DROP_PX, 7.0),
        ("/", "bold", F, 0, 6.0),
        ("σ", "italic", F, 0, 1.0),
        ("e", "bold", S, SUB_DROP_PX, 7.0),
        (f"={panel_ratio[k]},", "bold", F, 0, 5.0),
        ("b", "bold", F, 0, 1.5),
        ("ω", "italic", S, SUB_DROP_PX, 7.0),
        (f"={panel_bw[k]}", "bold", F, 0, 0.0),
    ]
    widths = [text_width(tx, sz, greek=(st == "italic")) for tx, st, sz, _, _ in parts]
    total = sum(widths) + sum(q[4] for q in parts)
    xoff = -total / 2.0
    xmid = (p.x_range.start + p.x_range.end) / 2.0
    for (tx, st, sz, drop, gap), wd in zip(parts, widths):
        ybase = yhi + (TITLE_BASE_PX - drop) * per_px
        p.text(x=[xmid], y=[ybase], text=[tx], x_offset=xoff,
               text_font=value(FONT), text_font_size=value(f"{sz}px"),
               text_font_style=value(st), text_color="black",
               text_align=value("left"), text_baseline=value("alphabetic"))
        xoff += wd + gap


def make_panel(k):
    r, c = divmod(k, 3)
    ylo, yhi = y_limits[k]
    per_px = (yhi - ylo) / FRAME_H
    w = LEFT_BORDER[c] + FRAME_W + RIGHT_BORDER
    h = TOP_BORDER[r] + FRAME_H + BOTTOM_BORDER[r]
    p = figure(width=w, height=h, output_backend="svg", toolbar_location=None,
               x_range=Range1d(0, 10), y_range=Range1d(ylo, yhi + HEAD * per_px),
               min_border_left=LEFT_BORDER[c], min_border_right=RIGHT_BORDER,
               min_border_top=TOP_BORDER[r] - HEAD, min_border_bottom=BOTTOM_BORDER[r])
    p.outline_line_color = None
    p.background_fill_color = "white"
    p.border_fill_color = "white"
    p.xgrid.visible = False
    p.ygrid.visible = False

    xs = [q[0] for q in panel_points[k]]
    ys = [q[1] for q in panel_points[k]]
    p.scatter(xs, ys, size=3.2, fill_color="black", line_color=None)

    p.xaxis.ticker = FixedTicker(ticks=x_ticks)
    p.xaxis.major_label_overrides = dict(zip(x_ticks, x_tick_labels))
    p.yaxis.ticker = FixedTicker(ticks=y_ticks[k])
    p.yaxis.major_label_overrides = dict(zip(y_ticks[k], y_tick_labels[k]))
    p.yaxis.bounds = (ylo, yhi)
    for ax in (p.xaxis, p.yaxis):
        ax.axis_line_color = AXIS_COLOR
        ax.axis_line_width = 1
        ax.major_tick_line_color = AXIS_COLOR
        ax.major_tick_in = 3
        ax.major_tick_out = 0
        ax.minor_tick_line_color = None
        ax.major_label_text_font = FONT
        ax.major_label_text_font_size = "13px"
        ax.major_label_text_color = TEXT_COLOR
        ax.major_label_standoff = 5
        ax.axis_label_text_font = FONT
        ax.axis_label_text_font_size = "13px"
        ax.axis_label_text_color = TEXT_COLOR
    p.xaxis.axis_label = "w"
    p.xaxis.axis_label_text_font_style = "normal"
    p.xaxis.axis_label_standoff = 4
    p.yaxis.axis_label = "δ"
    p.yaxis.axis_label_text_font_style = "italic"
    p.yaxis.axis_label_standoff = 7
    add_title(p, k, ylo, yhi)
    return p


panels = [make_panel(k) for k in range(9)]
layout = column(row(*panels[0:3]), row(*panels[3:6]), row(*panels[6:9]))

open("out.html", "w").write(file_html(layout, INLINE, title="delta vs w"))
